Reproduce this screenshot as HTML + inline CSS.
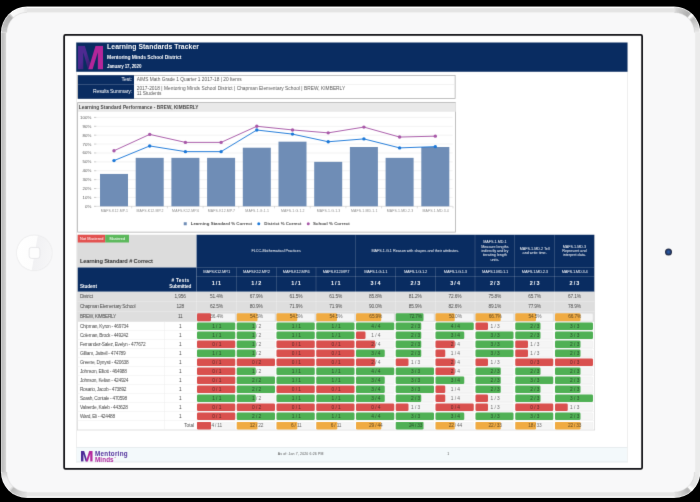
<!DOCTYPE html>
<html><head><meta charset="utf-8"><title>Learning Standards Tracker</title>
<style>
html,body{margin:0;padding:0;background:#000;}
body{width:700px;height:502px;position:relative;overflow:hidden;font-family:"Liberation Sans",sans-serif;}
#root div{position:absolute;box-sizing:border-box;}
#root{position:absolute;left:0;top:0;width:2800px;height:2008px;transform:scale(0.25);transform-origin:0 0;}
#wrap{position:absolute;left:0;top:0;width:700px;height:502px;overflow:hidden;filter:url(#soft);}
</style></head><body><svg width="0" height="0" style="position:absolute"><defs><filter id="soft" x="0" y="0" width="100%" height="100%" color-interpolation-filters="sRGB"><feConvolveMatrix order="3" kernelMatrix="0 1 0 1 8 1 0 1 0" divisor="12" edgeMode="duplicate" preserveAlpha="true"/></filter></defs></svg><div id="wrap"><div id="root">

<svg style="position:absolute;left:0;top:0;width:2800.00px;height:2008.00px" viewBox="0 0 700 502"><defs><linearGradient id="lg" x1="0" x2="1" y1="0" y2="0"><stop offset="0" stop-color="#dcdcdc"/><stop offset="0.18" stop-color="#bcbcbc"/><stop offset="0.8" stop-color="#d6d6d6"/><stop offset="0.86" stop-color="#ffffff"/><stop offset="1" stop-color="#fbfbfb"/></linearGradient></defs><mask id="fc" maskUnits="userSpaceOnUse" x="0" y="0" width="700" height="502"><rect x="0.9" y="6.6" width="699.4" height="491.4" rx="26.0" fill="#fff"/></mask><g mask="url(#fc)"><rect x="-5" y="0" width="710" height="502" fill="#f8f8f9"/><rect x="26.9" y="2.5999999999999996" width="647.4" height="9.8" fill="#e4e4e4"/><rect x="26.9" y="2.5999999999999996" width="647.4" height="5.5" fill="#ffffff"/><rect x="26.9" y="492.2" width="647.4" height="9.8" fill="#e6e6e6"/><rect x="26.9" y="496.5" width="647.4" height="5.5" fill="#ffffff"/><rect x="-3.1" y="32.6" width="4.5" height="439.4" fill="#e2e2e2"/><rect x="0.9" y="32.6" width="6.6" height="439.4" fill="url(#lg)"/><rect x="695.1" y="32.6" width="9.2" height="439.4" fill="#ebebeb"/><path d="M26.90 7.50 A25.10 25.10 0 0 0 24.79 7.59" fill="none" stroke="#e8e8e8" stroke-width="9.8"/><path d="M25.26 7.55 A25.10 25.10 0 0 0 23.16 7.78" fill="none" stroke="#ededed" stroke-width="9.8"/><path d="M23.62 7.71 A25.10 25.10 0 0 0 21.54 8.08" fill="none" stroke="#f3f3f3" stroke-width="9.8"/><path d="M22.00 7.98 A25.10 25.10 0 0 0 19.95 8.48" fill="none" stroke="#f5f5f5" stroke-width="9.8"/><path d="M20.40 8.36 A25.10 25.10 0 0 0 18.39 8.99" fill="none" stroke="#f5f5f5" stroke-width="9.8"/><path d="M18.83 8.83 A25.10 25.10 0 0 0 16.86 9.60" fill="none" stroke="#f6f6f6" stroke-width="9.8"/><path d="M17.29 9.41 A25.10 25.10 0 0 0 15.38 10.30" fill="none" stroke="#f7f7f7" stroke-width="9.8"/><path d="M15.80 10.09 A25.10 25.10 0 0 0 13.94 11.10" fill="none" stroke="#f8f8f8" stroke-width="9.8"/><path d="M14.35 10.86 A25.10 25.10 0 0 0 12.56 12.00" fill="none" stroke="#f8f8f8" stroke-width="9.8"/><path d="M12.96 11.73 A25.10 25.10 0 0 0 11.25 12.98" fill="none" stroke="#f9f9f9" stroke-width="9.8"/><path d="M11.62 12.69 A25.10 25.10 0 0 0 10.00 14.04" fill="none" stroke="#fafafa" stroke-width="9.8"/><path d="M10.35 13.73 A25.10 25.10 0 0 0 8.82 15.19" fill="none" stroke="#cbcbcb" stroke-width="9.8"/><path d="M9.15 14.85 A25.10 25.10 0 0 0 7.72 16.41" fill="none" stroke="#b1b1b1" stroke-width="9.8"/><path d="M8.03 16.05 A25.10 25.10 0 0 0 6.70 17.70" fill="none" stroke="#b2b2b2" stroke-width="9.8"/><path d="M6.99 17.32 A25.10 25.10 0 0 0 5.77 19.05" fill="none" stroke="#b4b4b4" stroke-width="9.8"/><path d="M6.03 18.66 A25.10 25.10 0 0 0 4.93 20.46" fill="none" stroke="#b5b5b5" stroke-width="9.8"/><path d="M5.16 20.05 A25.10 25.10 0 0 0 4.18 21.92" fill="none" stroke="#b6b6b6" stroke-width="9.8"/><path d="M4.39 21.50 A25.10 25.10 0 0 0 3.53 23.43" fill="none" stroke="#b8b8b8" stroke-width="9.8"/><path d="M3.71 22.99 A25.10 25.10 0 0 0 2.98 24.98" fill="none" stroke="#b9b9b9" stroke-width="9.8"/><path d="M3.13 24.53 A25.10 25.10 0 0 0 2.54 26.56" fill="none" stroke="#bbbbbb" stroke-width="9.8"/><path d="M2.66 26.10 A25.10 25.10 0 0 0 2.19 28.17" fill="none" stroke="#bfbfbf" stroke-width="9.8"/><path d="M2.28 27.70 A25.10 25.10 0 0 0 1.96 29.79" fill="none" stroke="#c2c2c2" stroke-width="9.8"/><path d="M2.01 29.32 A25.10 25.10 0 0 0 1.83 31.43" fill="none" stroke="#c5c5c5" stroke-width="9.8"/><path d="M1.85 30.96 A25.10 25.10 0 0 0 1.80 32.60" fill="none" stroke="#c9c9c9" stroke-width="9.8"/><path d="M26.90 5.50 A27.10 27.10 0 0 0 -0.20 32.60" fill="none" stroke="rgba(255,255,255,0.5)" stroke-width="4.0"/><path d="M26.90 12.40 A20.20 20.20 0 0 0 6.70 32.60" fill="none" stroke="rgba(190,190,190,0.5)" stroke-width="0.7"/><path d="M674.30 7.50 A25.10 25.10 0 0 1 676.41 7.59" fill="none" stroke="#dbdbdb" stroke-width="9.8"/><path d="M675.94 7.55 A25.10 25.10 0 0 1 678.04 7.78" fill="none" stroke="#d2d2d2" stroke-width="9.8"/><path d="M677.58 7.71 A25.10 25.10 0 0 1 679.66 8.08" fill="none" stroke="#cbcbcb" stroke-width="9.8"/><path d="M679.20 7.98 A25.10 25.10 0 0 1 681.25 8.48" fill="none" stroke="#c7c7c7" stroke-width="9.8"/><path d="M680.80 8.36 A25.10 25.10 0 0 1 682.81 8.99" fill="none" stroke="#c3c3c3" stroke-width="9.8"/><path d="M682.37 8.83 A25.10 25.10 0 0 1 684.34 9.60" fill="none" stroke="#bfbfbf" stroke-width="9.8"/><path d="M683.91 9.41 A25.10 25.10 0 0 1 685.82 10.30" fill="none" stroke="#bbbbbb" stroke-width="9.8"/><path d="M685.40 10.09 A25.10 25.10 0 0 1 687.26 11.10" fill="none" stroke="#b7b7b7" stroke-width="9.8"/><path d="M686.85 10.86 A25.10 25.10 0 0 1 688.64 12.00" fill="none" stroke="#b4b4b4" stroke-width="9.8"/><path d="M688.24 11.73 A25.10 25.10 0 0 1 689.95 12.98" fill="none" stroke="#b0b0b0" stroke-width="9.8"/><path d="M689.58 12.69 A25.10 25.10 0 0 1 691.20 14.04" fill="none" stroke="#b5b5b5" stroke-width="9.8"/><path d="M690.85 13.73 A25.10 25.10 0 0 1 692.38 15.19" fill="none" stroke="#fafafa" stroke-width="9.8"/><path d="M692.05 14.85 A25.10 25.10 0 0 1 693.48 16.41" fill="none" stroke="#fafafa" stroke-width="9.8"/><path d="M693.17 16.05 A25.10 25.10 0 0 1 694.50 17.70" fill="none" stroke="#d0d0d0" stroke-width="9.8"/><path d="M694.21 17.32 A25.10 25.10 0 0 1 695.43 19.05" fill="none" stroke="#bababa" stroke-width="9.8"/><path d="M695.17 18.66 A25.10 25.10 0 0 1 696.27 20.46" fill="none" stroke="#bfbfbf" stroke-width="9.8"/><path d="M696.04 20.05 A25.10 25.10 0 0 1 697.02 21.92" fill="none" stroke="#c3c3c3" stroke-width="9.8"/><path d="M696.81 21.50 A25.10 25.10 0 0 1 697.67 23.43" fill="none" stroke="#c8c8c8" stroke-width="9.8"/><path d="M697.49 22.99 A25.10 25.10 0 0 1 698.22 24.98" fill="none" stroke="#cdcdcd" stroke-width="9.8"/><path d="M698.07 24.53 A25.10 25.10 0 0 1 698.66 26.56" fill="none" stroke="#d2d2d2" stroke-width="9.8"/><path d="M698.54 26.10 A25.10 25.10 0 0 1 699.01 28.17" fill="none" stroke="#d7d7d7" stroke-width="9.8"/><path d="M698.92 27.70 A25.10 25.10 0 0 1 699.24 29.79" fill="none" stroke="#dcdcdc" stroke-width="9.8"/><path d="M699.19 29.32 A25.10 25.10 0 0 1 699.37 31.43" fill="none" stroke="#e1e1e1" stroke-width="9.8"/><path d="M699.35 30.96 A25.10 25.10 0 0 1 699.40 32.60" fill="none" stroke="#e6e6e6" stroke-width="9.8"/><path d="M674.30 5.50 A27.10 27.10 0 0 1 701.40 32.60" fill="none" stroke="rgba(255,255,255,0.5)" stroke-width="4.0"/><path d="M674.30 12.40 A20.20 20.20 0 0 1 694.50 32.60" fill="none" stroke="rgba(190,190,190,0.5)" stroke-width="0.7"/><path d="M26.90 497.10 A25.10 25.10 0 0 1 24.79 497.01" fill="none" stroke="#e0e0e0" stroke-width="9.8"/><path d="M25.26 497.05 A25.10 25.10 0 0 1 23.16 496.82" fill="none" stroke="#dddddd" stroke-width="9.8"/><path d="M23.62 496.89 A25.10 25.10 0 0 1 21.54 496.52" fill="none" stroke="#d9d9d9" stroke-width="9.8"/><path d="M22.00 496.62 A25.10 25.10 0 0 1 19.95 496.12" fill="none" stroke="#d6d6d6" stroke-width="9.8"/><path d="M20.40 496.24 A25.10 25.10 0 0 1 18.39 495.61" fill="none" stroke="#d3d3d3" stroke-width="9.8"/><path d="M18.83 495.77 A25.10 25.10 0 0 1 16.86 495.00" fill="none" stroke="#cecece" stroke-width="9.8"/><path d="M17.29 495.19 A25.10 25.10 0 0 1 15.38 494.30" fill="none" stroke="#cacaca" stroke-width="9.8"/><path d="M15.80 494.51 A25.10 25.10 0 0 1 13.94 493.50" fill="none" stroke="#c6c6c6" stroke-width="9.8"/><path d="M14.35 493.74 A25.10 25.10 0 0 1 12.56 492.60" fill="none" stroke="#c2c2c2" stroke-width="9.8"/><path d="M12.96 492.87 A25.10 25.10 0 0 1 11.25 491.62" fill="none" stroke="#bebebe" stroke-width="9.8"/><path d="M11.62 491.91 A25.10 25.10 0 0 1 10.00 490.56" fill="none" stroke="#bababa" stroke-width="9.8"/><path d="M10.35 490.87 A25.10 25.10 0 0 1 8.82 489.41" fill="none" stroke="#dbdbdb" stroke-width="9.8"/><path d="M9.15 489.75 A25.10 25.10 0 0 1 7.72 488.19" fill="none" stroke="#f0f0f0" stroke-width="9.8"/><path d="M8.03 488.55 A25.10 25.10 0 0 1 6.70 486.90" fill="none" stroke="#f0f0f0" stroke-width="9.8"/><path d="M6.99 487.28 A25.10 25.10 0 0 1 5.77 485.55" fill="none" stroke="#f0f0f0" stroke-width="9.8"/><path d="M6.03 485.94 A25.10 25.10 0 0 1 4.93 484.14" fill="none" stroke="#f0f0f0" stroke-width="9.8"/><path d="M5.16 484.55 A25.10 25.10 0 0 1 4.18 482.68" fill="none" stroke="#f0f0f0" stroke-width="9.8"/><path d="M4.39 483.10 A25.10 25.10 0 0 1 3.53 481.17" fill="none" stroke="#f0f0f0" stroke-width="9.8"/><path d="M3.71 481.61 A25.10 25.10 0 0 1 2.98 479.62" fill="none" stroke="#f0f0f0" stroke-width="9.8"/><path d="M3.13 480.07 A25.10 25.10 0 0 1 2.54 478.04" fill="none" stroke="#ededed" stroke-width="9.8"/><path d="M2.66 478.50 A25.10 25.10 0 0 1 2.19 476.43" fill="none" stroke="#e6e6e6" stroke-width="9.8"/><path d="M2.28 476.90 A25.10 25.10 0 0 1 1.96 474.81" fill="none" stroke="#dfdfdf" stroke-width="9.8"/><path d="M2.01 475.28 A25.10 25.10 0 0 1 1.83 473.17" fill="none" stroke="#d8d8d8" stroke-width="9.8"/><path d="M1.85 473.64 A25.10 25.10 0 0 1 1.80 472.00" fill="none" stroke="#d1d1d1" stroke-width="9.8"/><path d="M26.90 499.10 A27.10 27.10 0 0 1 -0.20 472.00" fill="none" stroke="rgba(255,255,255,0.5)" stroke-width="4.0"/><path d="M26.90 492.20 A20.20 20.20 0 0 1 6.70 472.00" fill="none" stroke="rgba(190,190,190,0.5)" stroke-width="0.7"/><path d="M674.30 497.10 A25.10 25.10 0 0 0 676.41 497.01" fill="none" stroke="#e1e1e1" stroke-width="9.8"/><path d="M675.94 497.05 A25.10 25.10 0 0 0 678.04 496.82" fill="none" stroke="#dddddd" stroke-width="9.8"/><path d="M677.58 496.89 A25.10 25.10 0 0 0 679.66 496.52" fill="none" stroke="#d8d8d8" stroke-width="9.8"/><path d="M679.20 496.62 A25.10 25.10 0 0 0 681.25 496.12" fill="none" stroke="#d4d4d4" stroke-width="9.8"/><path d="M680.80 496.24 A25.10 25.10 0 0 0 682.81 495.61" fill="none" stroke="#cfcfcf" stroke-width="9.8"/><path d="M682.37 495.77 A25.10 25.10 0 0 0 684.34 495.00" fill="none" stroke="#c9c9c9" stroke-width="9.8"/><path d="M683.91 495.19 A25.10 25.10 0 0 0 685.82 494.30" fill="none" stroke="#c4c4c4" stroke-width="9.8"/><path d="M685.40 494.51 A25.10 25.10 0 0 0 687.26 493.50" fill="none" stroke="#bfbfbf" stroke-width="9.8"/><path d="M686.85 493.74 A25.10 25.10 0 0 0 688.64 492.60" fill="none" stroke="#bababa" stroke-width="9.8"/><path d="M688.24 492.87 A25.10 25.10 0 0 0 689.95 491.62" fill="none" stroke="#b5b5b5" stroke-width="9.8"/><path d="M689.58 491.91 A25.10 25.10 0 0 0 691.20 490.56" fill="none" stroke="#b9b9b9" stroke-width="9.8"/><path d="M690.85 490.87 A25.10 25.10 0 0 0 692.38 489.41" fill="none" stroke="#fafafa" stroke-width="9.8"/><path d="M692.05 489.75 A25.10 25.10 0 0 0 693.48 488.19" fill="none" stroke="#fafafa" stroke-width="9.8"/><path d="M693.17 488.55 A25.10 25.10 0 0 0 694.50 486.90" fill="none" stroke="#ebebeb" stroke-width="9.8"/><path d="M694.21 487.28 A25.10 25.10 0 0 0 695.43 485.55" fill="none" stroke="#e3e3e3" stroke-width="9.8"/><path d="M695.17 485.94 A25.10 25.10 0 0 0 696.27 484.14" fill="none" stroke="#e3e3e3" stroke-width="9.8"/><path d="M696.04 484.55 A25.10 25.10 0 0 0 697.02 482.68" fill="none" stroke="#e4e4e4" stroke-width="9.8"/><path d="M696.81 483.10 A25.10 25.10 0 0 0 697.67 481.17" fill="none" stroke="#e5e5e5" stroke-width="9.8"/><path d="M697.49 481.61 A25.10 25.10 0 0 0 698.22 479.62" fill="none" stroke="#e6e6e6" stroke-width="9.8"/><path d="M698.07 480.07 A25.10 25.10 0 0 0 698.66 478.04" fill="none" stroke="#e7e7e7" stroke-width="9.8"/><path d="M698.54 478.50 A25.10 25.10 0 0 0 699.01 476.43" fill="none" stroke="#e7e7e7" stroke-width="9.8"/><path d="M698.92 476.90 A25.10 25.10 0 0 0 699.24 474.81" fill="none" stroke="#e8e8e8" stroke-width="9.8"/><path d="M699.19 475.28 A25.10 25.10 0 0 0 699.37 473.17" fill="none" stroke="#e9e9e9" stroke-width="9.8"/><path d="M699.35 473.64 A25.10 25.10 0 0 0 699.40 472.00" fill="none" stroke="#eaeaea" stroke-width="9.8"/><path d="M674.30 499.10 A27.10 27.10 0 0 0 701.40 472.00" fill="none" stroke="rgba(255,255,255,0.5)" stroke-width="4.0"/><path d="M674.30 492.20 A20.20 20.20 0 0 0 694.50 472.00" fill="none" stroke="rgba(190,190,190,0.5)" stroke-width="0.7"/></g></svg>
<div style="left:68.40px;top:942.40px;width:138.80px;height:138.80px;border-radius:50%;background:linear-gradient(100deg,#ffffff 0%,#fdfdfd 50%,#f1f1f3 52%,#f7f7f8 100%);box-shadow:0 0 6.00px rgba(0,0,0,.18);"></div>
<div style="left:114.80px;top:988.40px;width:46.40px;height:46.40px;border-radius:11.20px;border:3.60px solid #e0e0e3;background:#fdfdfd;"></div>
<div style="left:2659.60px;top:993.60px;width:28.00px;height:28.00px;border-radius:50%;background:radial-gradient(circle,#2b62b0 0%,#244a8a 30%,#232b45 62%,#3a3e4c 100%);"></div>
<div style="left:252.80px;top:136.40px;width:2318.80px;height:1742.80px;background:#fff;border:7.60px solid #0e0e12;border-radius:8.80px;box-shadow:0 0 0 3.60px rgba(255,255,255,0.95);"></div>
<div style="left:305.20px;top:169.60px;width:2205.20px;height:1680.00px;border-left:2.40px solid #dcdcdc;border-right:2.40px solid #dcdcdc;"></div>
<div style="left:305.20px;top:169.60px;width:2205.20px;height:117.20px;background:#092c61;"></div>
<svg style="position:absolute;left:311.60px;top:183.00px;width:100.40px;height:94.60px" viewBox="0 0 100 100" preserveAspectRatio="none">
<defs><linearGradient id="mgs" x1="0" y1="0" x2="1" y2="1"><stop offset="0.45" stop-color="#4e2a91"/><stop offset="0.8" stop-color="#3a1f74"/></linearGradient></defs>
<path d="M0 0 L27 0 L56 100 L40 100 L21 27 L21 100 L0 100 Z" fill="url(#mgs)"/>
<path d="M70 0 L100 0 L100 100 L79 100 L79 27 L58 100 L41 100 Z" fill="#b3269a"/>
</svg>
<div style="font-size:27.20px;line-height:27.20px;color:#fff;font-weight:bold;white-space:nowrap;letter-spacing:0.31px;left:428.40px;top:173.40px;">Learning Standards Tracker</div>
<div style="font-size:20.00px;line-height:20.00px;color:#fff;font-weight:bold;white-space:nowrap;letter-spacing:-0.32px;left:428.40px;top:218.28px;">Mentoring Minds School District</div>
<div style="font-size:18.00px;line-height:18.00px;color:#fff;font-weight:bold;white-space:nowrap;letter-spacing:-0.46px;left:428.40px;top:255.16px;">January 17, 2020</div>
<div style="left:308.80px;top:300.00px;width:1513.20px;height:95.20px;border:3.20px solid #adadad;background:#fff;"></div>
<div style="left:311.60px;top:300.80px;width:224.40px;height:94.40px;background:#092c61;"></div>
<div style="left:311.60px;top:337.00px;width:224.40px;height:2.00px;background:rgba(255,255,255,0.35);"></div>
<div style="left:536.80px;top:336.40px;width:1284.00px;height:2.00px;background:#e6e6e6;"></div>
<div style="font-size:20.40px;line-height:20.40px;color:#fff;font-weight:normal;white-space:nowrap;letter-spacing:-0.27px;right:2272.28px;top:304.76px;">Test:</div>
<div style="font-size:20.40px;line-height:20.40px;color:#fff;font-weight:normal;white-space:nowrap;letter-spacing:-0.71px;right:2272.72px;top:352.76px;">Results Summary:</div>
<div style="font-size:19.20px;line-height:19.20px;color:#555;font-weight:normal;white-space:nowrap;letter-spacing:-0.03px;left:546.80px;top:306.16px;">AIMS Math Grade 1 Quarter 1 2017-18 | 20 Items</div>
<div style="font-size:19.20px;line-height:19.20px;color:#555;font-weight:normal;white-space:nowrap;letter-spacing:0.15px;left:546.80px;top:342.16px;">2017-2018 | Mentoring Minds School District | Chapman Elementary School | BREW, KIMBERLY</div>
<div style="font-size:19.20px;line-height:19.20px;color:#555;font-weight:normal;white-space:nowrap;letter-spacing:-0.19px;left:546.80px;top:363.36px;">11 Students</div>
<div style="left:308.80px;top:408.80px;width:1514.40px;height:520.80px;border:3.20px solid #adadad;background:#fff;"></div>
<div style="left:311.60px;top:412.00px;width:1511.60px;height:35.20px;background:#e9e9e9;"></div>
<div style="font-size:18.80px;line-height:18.80px;color:#444;font-weight:bold;white-space:nowrap;letter-spacing:0.29px;left:315.20px;top:419.68px;">Learning Standard Performance - BREW, KIMBERLY</div>
<svg style="position:absolute;left:0;top:0;width:2800.00px;height:2008.00px" viewBox="0 0 700 502"><line x1="96.3" x2="452.6" y1="206.30" y2="206.30" stroke="#bdbdbd" stroke-width="0.5"/><line x1="94" x2="96.3" y1="206.30" y2="206.30" stroke="#999" stroke-width="0.5"/><line x1="96.3" x2="452.6" y1="197.41" y2="197.41" stroke="#e6e6e6" stroke-width="0.5"/><line x1="94" x2="96.3" y1="197.41" y2="197.41" stroke="#999" stroke-width="0.5"/><line x1="96.3" x2="452.6" y1="188.52" y2="188.52" stroke="#e6e6e6" stroke-width="0.5"/><line x1="94" x2="96.3" y1="188.52" y2="188.52" stroke="#999" stroke-width="0.5"/><line x1="96.3" x2="452.6" y1="179.63" y2="179.63" stroke="#e6e6e6" stroke-width="0.5"/><line x1="94" x2="96.3" y1="179.63" y2="179.63" stroke="#999" stroke-width="0.5"/><line x1="96.3" x2="452.6" y1="170.74" y2="170.74" stroke="#e6e6e6" stroke-width="0.5"/><line x1="94" x2="96.3" y1="170.74" y2="170.74" stroke="#999" stroke-width="0.5"/><line x1="96.3" x2="452.6" y1="161.85" y2="161.85" stroke="#e6e6e6" stroke-width="0.5"/><line x1="94" x2="96.3" y1="161.85" y2="161.85" stroke="#999" stroke-width="0.5"/><line x1="96.3" x2="452.6" y1="152.96" y2="152.96" stroke="#e6e6e6" stroke-width="0.5"/><line x1="94" x2="96.3" y1="152.96" y2="152.96" stroke="#999" stroke-width="0.5"/><line x1="96.3" x2="452.6" y1="144.07" y2="144.07" stroke="#e6e6e6" stroke-width="0.5"/><line x1="94" x2="96.3" y1="144.07" y2="144.07" stroke="#999" stroke-width="0.5"/><line x1="96.3" x2="452.6" y1="135.18" y2="135.18" stroke="#e6e6e6" stroke-width="0.5"/><line x1="94" x2="96.3" y1="135.18" y2="135.18" stroke="#999" stroke-width="0.5"/><line x1="96.3" x2="452.6" y1="126.29" y2="126.29" stroke="#e6e6e6" stroke-width="0.5"/><line x1="94" x2="96.3" y1="126.29" y2="126.29" stroke="#999" stroke-width="0.5"/><line x1="96.3" x2="452.6" y1="117.40" y2="117.40" stroke="#e6e6e6" stroke-width="0.5"/><line x1="94" x2="96.3" y1="117.40" y2="117.40" stroke="#999" stroke-width="0.5"/><rect x="100.00" y="173.94" width="28.0" height="32.36" fill="#6f8db6"/><line x1="131.70" x2="131.70" y1="206.3" y2="208.3" stroke="#bbb" stroke-width="0.5"/><rect x="135.70" y="157.85" width="28.0" height="48.45" fill="#6f8db6"/><line x1="167.40" x2="167.40" y1="206.3" y2="208.3" stroke="#bbb" stroke-width="0.5"/><rect x="171.40" y="157.85" width="28.0" height="48.45" fill="#6f8db6"/><line x1="203.10" x2="203.10" y1="206.3" y2="208.3" stroke="#bbb" stroke-width="0.5"/><rect x="207.10" y="157.85" width="28.0" height="48.45" fill="#6f8db6"/><line x1="238.80" x2="238.80" y1="206.3" y2="208.3" stroke="#bbb" stroke-width="0.5"/><rect x="242.80" y="147.71" width="28.0" height="58.59" fill="#6f8db6"/><line x1="274.50" x2="274.50" y1="206.3" y2="208.3" stroke="#bbb" stroke-width="0.5"/><rect x="278.50" y="141.67" width="28.0" height="64.63" fill="#6f8db6"/><line x1="310.20" x2="310.20" y1="206.3" y2="208.3" stroke="#bbb" stroke-width="0.5"/><rect x="314.20" y="161.85" width="28.0" height="44.45" fill="#6f8db6"/><line x1="345.90" x2="345.90" y1="206.3" y2="208.3" stroke="#bbb" stroke-width="0.5"/><rect x="349.90" y="147.00" width="28.0" height="59.30" fill="#6f8db6"/><line x1="381.60" x2="381.60" y1="206.3" y2="208.3" stroke="#bbb" stroke-width="0.5"/><rect x="385.60" y="157.85" width="28.0" height="48.45" fill="#6f8db6"/><line x1="417.30" x2="417.30" y1="206.3" y2="208.3" stroke="#bbb" stroke-width="0.5"/><rect x="421.30" y="147.00" width="28.0" height="59.30" fill="#6f8db6"/><line x1="453.00" x2="453.00" y1="206.3" y2="208.3" stroke="#bbb" stroke-width="0.5"/><polyline points="114.00,160.61 149.70,145.94 185.40,151.63 221.10,151.63 256.80,130.02 292.50,134.11 328.20,141.76 363.90,138.91 399.60,147.89 435.30,146.65" fill="none" stroke="#1c78d8" stroke-width="0.95"/><circle cx="114.00" cy="160.61" r="1.7" fill="#1c78d8"/><circle cx="149.70" cy="145.94" r="1.7" fill="#1c78d8"/><circle cx="185.40" cy="151.63" r="1.7" fill="#1c78d8"/><circle cx="221.10" cy="151.63" r="1.7" fill="#1c78d8"/><circle cx="256.80" cy="130.02" r="1.7" fill="#1c78d8"/><circle cx="292.50" cy="134.11" r="1.7" fill="#1c78d8"/><circle cx="328.20" cy="141.76" r="1.7" fill="#1c78d8"/><circle cx="363.90" cy="138.91" r="1.7" fill="#1c78d8"/><circle cx="399.60" cy="147.89" r="1.7" fill="#1c78d8"/><circle cx="435.30" cy="146.65" r="1.7" fill="#1c78d8"/><polyline points="114.00,150.74 149.70,134.38 185.40,142.38 221.10,142.38 256.80,126.29 292.50,129.93 328.20,132.87 363.90,127.09 399.60,137.05 435.30,136.16" fill="none" stroke="#a858a8" stroke-width="0.95"/><circle cx="114.00" cy="150.74" r="1.7" fill="#a858a8"/><circle cx="149.70" cy="134.38" r="1.7" fill="#a858a8"/><circle cx="185.40" cy="142.38" r="1.7" fill="#a858a8"/><circle cx="221.10" cy="142.38" r="1.7" fill="#a858a8"/><circle cx="256.80" cy="126.29" r="1.7" fill="#a858a8"/><circle cx="292.50" cy="129.93" r="1.7" fill="#a858a8"/><circle cx="328.20" cy="132.87" r="1.7" fill="#a858a8"/><circle cx="363.90" cy="127.09" r="1.7" fill="#a858a8"/><circle cx="399.60" cy="137.05" r="1.7" fill="#a858a8"/><circle cx="435.30" cy="136.16" r="1.7" fill="#a858a8"/></svg>
<div style="font-size:17.60px;line-height:17.60px;color:#585858;font-weight:normal;white-space:nowrap;letter-spacing:0.56px;right:2433.44px;top:816.52px;">0%</div>
<div style="font-size:17.60px;line-height:17.60px;color:#585858;font-weight:normal;white-space:nowrap;letter-spacing:0.39px;right:2433.60px;top:780.96px;">10%</div>
<div style="font-size:17.60px;line-height:17.60px;color:#585858;font-weight:normal;white-space:nowrap;letter-spacing:0.39px;right:2433.60px;top:745.40px;">20%</div>
<div style="font-size:17.60px;line-height:17.60px;color:#585858;font-weight:normal;white-space:nowrap;letter-spacing:0.39px;right:2433.60px;top:709.84px;">30%</div>
<div style="font-size:17.60px;line-height:17.60px;color:#585858;font-weight:normal;white-space:nowrap;letter-spacing:0.39px;right:2433.60px;top:674.28px;">40%</div>
<div style="font-size:17.60px;line-height:17.60px;color:#585858;font-weight:normal;white-space:nowrap;letter-spacing:0.39px;right:2433.60px;top:638.72px;">50%</div>
<div style="font-size:17.60px;line-height:17.60px;color:#585858;font-weight:normal;white-space:nowrap;letter-spacing:0.39px;right:2433.60px;top:603.16px;">60%</div>
<div style="font-size:17.60px;line-height:17.60px;color:#585858;font-weight:normal;white-space:nowrap;letter-spacing:0.39px;right:2433.60px;top:567.60px;">70%</div>
<div style="font-size:17.60px;line-height:17.60px;color:#585858;font-weight:normal;white-space:nowrap;letter-spacing:0.39px;right:2433.60px;top:532.04px;">80%</div>
<div style="font-size:17.60px;line-height:17.60px;color:#585858;font-weight:normal;white-space:nowrap;letter-spacing:0.39px;right:2433.60px;top:496.48px;">90%</div>
<div style="font-size:17.60px;line-height:17.60px;color:#585858;font-weight:normal;white-space:nowrap;letter-spacing:0.46px;right:2433.52px;top:460.92px;">100%</div>
<div style="font-size:14.00px;line-height:14.00px;color:#8e8e8e;font-weight:normal;white-space:nowrap;letter-spacing:0.51px;left:57.44px;width:800.00px;text-align:center;top:835.76px;">MAFS.K12.MP.1</div>
<div style="font-size:14.00px;line-height:14.00px;color:#8e8e8e;font-weight:normal;white-space:nowrap;letter-spacing:0.51px;left:200.24px;width:800.00px;text-align:center;top:835.76px;">MAFS.K12.MP.2</div>
<div style="font-size:14.00px;line-height:14.00px;color:#8e8e8e;font-weight:normal;white-space:nowrap;letter-spacing:0.51px;left:343.04px;width:800.00px;text-align:center;top:835.76px;">MAFS.K12.MP.6</div>
<div style="font-size:14.00px;line-height:14.00px;color:#8e8e8e;font-weight:normal;white-space:nowrap;letter-spacing:0.51px;left:485.84px;width:800.00px;text-align:center;top:835.76px;">MAFS.K12.MP.7</div>
<div style="font-size:14.00px;line-height:14.00px;color:#8e8e8e;font-weight:normal;white-space:nowrap;letter-spacing:0.48px;left:628.64px;width:800.00px;text-align:center;top:835.76px;">MAFS.1.G.1.1</div>
<div style="font-size:14.00px;line-height:14.00px;color:#8e8e8e;font-weight:normal;white-space:nowrap;letter-spacing:0.48px;left:771.44px;width:800.00px;text-align:center;top:835.76px;">MAFS.1.G.1.2</div>
<div style="font-size:14.00px;line-height:14.00px;color:#8e8e8e;font-weight:normal;white-space:nowrap;letter-spacing:0.48px;left:914.24px;width:800.00px;text-align:center;top:835.76px;">MAFS.1.G.1.3</div>
<div style="font-size:14.00px;line-height:14.00px;color:#8e8e8e;font-weight:normal;white-space:nowrap;letter-spacing:0.50px;left:1057.04px;width:800.00px;text-align:center;top:835.76px;">MAFS.1.MD.1.1</div>
<div style="font-size:14.00px;line-height:14.00px;color:#8e8e8e;font-weight:normal;white-space:nowrap;letter-spacing:0.50px;left:1199.84px;width:800.00px;text-align:center;top:835.76px;">MAFS.1.MD.2.3</div>
<div style="font-size:14.00px;line-height:14.00px;color:#8e8e8e;font-weight:normal;white-space:nowrap;letter-spacing:0.50px;left:1342.64px;width:800.00px;text-align:center;top:835.76px;">MAFS.1.MD.3.4</div>
<div style="left:734.80px;top:888.80px;width:12.40px;height:12.40px;background:#6f8db6;"></div>
<div style="font-size:17.60px;line-height:17.60px;color:#4a4a4a;font-weight:bold;white-space:nowrap;letter-spacing:0.08px;left:762.80px;top:886.72px;">Learning Standard % Correct</div>
<div style="left:1029.20px;top:889.20px;width:12.00px;height:12.00px;background:#1c78d8;border-radius:50%;"></div>
<div style="font-size:17.60px;line-height:17.60px;color:#4a4a4a;font-weight:bold;white-space:nowrap;letter-spacing:0.03px;left:1056.80px;top:886.72px;">District % Correct</div>
<div style="left:1226.80px;top:889.20px;width:12.00px;height:12.00px;background:#a858a8;border-radius:50%;"></div>
<div style="font-size:17.60px;line-height:17.60px;color:#4a4a4a;font-weight:bold;white-space:nowrap;letter-spacing:0.01px;left:1252.40px;top:886.72px;">School % Correct</div>
<div style="left:309.20px;top:939.00px;width:2069.60px;height:781.80px;background:#fff;border:2.40px solid #c4c4c4;border-top:none;"></div>
<div style="left:310.80px;top:939.00px;width:475.60px;height:130.60px;background:#dcdcdc;"></div>
<div style="left:310.80px;top:939.00px;width:110.40px;height:31.20px;background:#e2514f;"></div>
<div style="left:421.20px;top:939.00px;width:94.80px;height:31.20px;background:#5cb85c;"></div>
<div style="font-size:15.60px;line-height:15.60px;color:#fff;font-weight:normal;white-space:nowrap;letter-spacing:-0.04px;left:320.40px;top:944.80px;">Not Mastered</div>
<div style="font-size:15.60px;line-height:15.60px;color:#fff;font-weight:normal;white-space:nowrap;letter-spacing:-0.32px;left:437.60px;top:944.80px;">Mastered</div>
<div style="font-size:22.80px;line-height:22.80px;color:#333;font-weight:bold;white-space:nowrap;letter-spacing:-0.60px;left:319.60px;top:1032.32px;">Learning Standard # Correct</div>
<div style="left:786.40px;top:939.00px;width:1590.80px;height:227.80px;background:#092c61;"></div>
<div style="left:310.80px;top:1069.60px;width:476.40px;height:97.20px;background:#092c61;"></div>
<div style="font-size:18.80px;line-height:18.80px;color:#fff;font-weight:bold;white-space:nowrap;letter-spacing:-0.26px;left:319.60px;top:1136.08px;">Student</div>
<div style="font-size:18.80px;line-height:18.80px;color:#fff;font-weight:bold;white-space:nowrap;letter-spacing:1.17px;left:321.80px;width:800.00px;text-align:center;top:1113.28px;"># Tests</div>
<div style="font-size:18.80px;line-height:18.80px;color:#fff;font-weight:bold;white-space:nowrap;letter-spacing:-0.44px;left:321.00px;width:800.00px;text-align:center;top:1136.08px;">Submitted</div>
<div style="left:786.40px;top:1068.60px;width:1590.80px;height:2.00px;background:rgba(255,255,255,0.30);"></div>
<div style="left:786.40px;top:1105.40px;width:1590.80px;height:2.00px;background:rgba(255,255,255,0.30);"></div>
<div style="left:785.40px;top:939.00px;width:2.00px;height:227.80px;background:rgba(255,255,255,0.30);"></div>
<div style="left:944.48px;top:1069.60px;width:2.00px;height:97.20px;background:rgba(255,255,255,0.30);"></div>
<div style="left:1103.56px;top:1069.60px;width:2.00px;height:97.20px;background:rgba(255,255,255,0.30);"></div>
<div style="left:1262.64px;top:1069.60px;width:2.00px;height:97.20px;background:rgba(255,255,255,0.30);"></div>
<div style="left:1421.72px;top:939.00px;width:2.00px;height:227.80px;background:rgba(255,255,255,0.30);"></div>
<div style="left:1580.80px;top:1069.60px;width:2.00px;height:97.20px;background:rgba(255,255,255,0.30);"></div>
<div style="left:1739.88px;top:1069.60px;width:2.00px;height:97.20px;background:rgba(255,255,255,0.30);"></div>
<div style="left:1898.96px;top:939.00px;width:2.00px;height:227.80px;background:rgba(255,255,255,0.30);"></div>
<div style="left:2058.04px;top:939.00px;width:2.00px;height:227.80px;background:rgba(255,255,255,0.30);"></div>
<div style="left:2217.12px;top:939.00px;width:2.00px;height:227.80px;background:rgba(255,255,255,0.30);"></div>
<div style="font-size:15.00px;line-height:15.00px;color:#fff;font-weight:normal;white-space:nowrap;letter-spacing:-0.08px;left:704.52px;width:800.00px;text-align:center;top:995.12px;">FLCC-Mathematical Practices</div>
<div style="font-size:15.00px;line-height:15.00px;color:#fff;font-weight:normal;white-space:nowrap;letter-spacing:-0.07px;left:1261.32px;width:800.00px;text-align:center;top:995.12px;">MAFS.1.G.1 Reason with shapes and their attributes.</div>
<div style="font-size:15.00px;line-height:15.00px;color:#fff;font-weight:normal;white-space:nowrap;letter-spacing:-0.09px;left:1579.44px;width:800.00px;text-align:center;top:960.48px;">MAFS.1.MD.1</div>
<div style="font-size:15.00px;line-height:15.00px;color:#fff;font-weight:normal;white-space:nowrap;letter-spacing:-0.08px;left:1579.48px;width:800.00px;text-align:center;top:977.80px;">Measure lengths</div>
<div style="font-size:15.00px;line-height:15.00px;color:#fff;font-weight:normal;white-space:nowrap;letter-spacing:-0.07px;left:1579.48px;width:800.00px;text-align:center;top:995.12px;">indirectly and by</div>
<div style="font-size:15.00px;line-height:15.00px;color:#fff;font-weight:normal;white-space:nowrap;letter-spacing:-0.07px;left:1579.48px;width:800.00px;text-align:center;top:1012.44px;">iterating length</div>
<div style="font-size:15.00px;line-height:15.00px;color:#fff;font-weight:normal;white-space:nowrap;letter-spacing:-0.07px;left:1579.48px;width:800.00px;text-align:center;top:1029.76px;">units.</div>
<div style="font-size:15.00px;line-height:15.00px;color:#fff;font-weight:normal;white-space:nowrap;letter-spacing:-0.08px;left:1738.52px;width:800.00px;text-align:center;top:986.44px;">MAFS.1.MD.2 Tell</div>
<div style="font-size:15.00px;line-height:15.00px;color:#fff;font-weight:normal;white-space:nowrap;letter-spacing:-0.07px;left:1738.56px;width:800.00px;text-align:center;top:1003.76px;">and write time.</div>
<div style="font-size:15.00px;line-height:15.00px;color:#fff;font-weight:normal;white-space:nowrap;letter-spacing:-0.09px;left:1897.60px;width:800.00px;text-align:center;top:977.80px;">MAFS.1.MD.3</div>
<div style="font-size:15.00px;line-height:15.00px;color:#fff;font-weight:normal;white-space:nowrap;letter-spacing:-0.08px;left:1897.60px;width:800.00px;text-align:center;top:995.12px;">Represent and</div>
<div style="font-size:15.00px;line-height:15.00px;color:#fff;font-weight:normal;white-space:nowrap;letter-spacing:-0.07px;left:1897.64px;width:800.00px;text-align:center;top:1012.44px;">interpret data.</div>
<div style="font-size:16.00px;line-height:16.00px;color:#fff;font-weight:normal;white-space:nowrap;letter-spacing:-0.78px;left:466.76px;width:800.00px;text-align:center;top:1077.28px;">MAFS.K12.MP.1</div>
<div style="font-size:22.00px;line-height:22.00px;color:#fff;font-weight:bold;white-space:nowrap;letter-spacing:-1.30px;left:465.28px;width:800.00px;text-align:center;top:1123.00px;">1 / 1</div>
<div style="font-size:16.00px;line-height:16.00px;color:#fff;font-weight:normal;white-space:nowrap;letter-spacing:-0.78px;left:625.84px;width:800.00px;text-align:center;top:1077.28px;">MAFS.K12.MP.2</div>
<div style="font-size:22.00px;line-height:22.00px;color:#fff;font-weight:bold;white-space:nowrap;letter-spacing:-0.80px;left:624.60px;width:800.00px;text-align:center;top:1123.00px;">1 / 2</div>
<div style="font-size:16.00px;line-height:16.00px;color:#fff;font-weight:normal;white-space:nowrap;letter-spacing:-0.78px;left:784.92px;width:800.00px;text-align:center;top:1077.28px;">MAFS.K12.MP.6</div>
<div style="font-size:22.00px;line-height:22.00px;color:#fff;font-weight:bold;white-space:nowrap;letter-spacing:-1.30px;left:783.44px;width:800.00px;text-align:center;top:1123.00px;">1 / 1</div>
<div style="font-size:16.00px;line-height:16.00px;color:#fff;font-weight:normal;white-space:nowrap;letter-spacing:-0.78px;left:944.00px;width:800.00px;text-align:center;top:1077.28px;">MAFS.K12.MP.7</div>
<div style="font-size:22.00px;line-height:22.00px;color:#fff;font-weight:bold;white-space:nowrap;letter-spacing:-1.30px;left:942.52px;width:800.00px;text-align:center;top:1123.00px;">1 / 1</div>
<div style="font-size:16.00px;line-height:16.00px;color:#fff;font-weight:normal;white-space:nowrap;letter-spacing:-0.74px;left:1103.08px;width:800.00px;text-align:center;top:1077.28px;">MAFS.1.G.1.1</div>
<div style="font-size:22.00px;line-height:22.00px;color:#fff;font-weight:bold;white-space:nowrap;letter-spacing:-0.80px;left:1101.84px;width:800.00px;text-align:center;top:1123.00px;">3 / 4</div>
<div style="font-size:16.00px;line-height:16.00px;color:#fff;font-weight:normal;white-space:nowrap;letter-spacing:-0.74px;left:1262.16px;width:800.00px;text-align:center;top:1077.28px;">MAFS.1.G.1.2</div>
<div style="font-size:22.00px;line-height:22.00px;color:#fff;font-weight:bold;white-space:nowrap;letter-spacing:-0.80px;left:1260.92px;width:800.00px;text-align:center;top:1123.00px;">2 / 3</div>
<div style="font-size:16.00px;line-height:16.00px;color:#fff;font-weight:normal;white-space:nowrap;letter-spacing:-0.74px;left:1421.24px;width:800.00px;text-align:center;top:1077.28px;">MAFS.1.G.1.3</div>
<div style="font-size:22.00px;line-height:22.00px;color:#fff;font-weight:bold;white-space:nowrap;letter-spacing:-0.80px;left:1420.00px;width:800.00px;text-align:center;top:1123.00px;">3 / 4</div>
<div style="font-size:16.00px;line-height:16.00px;color:#fff;font-weight:normal;white-space:nowrap;letter-spacing:-0.76px;left:1580.32px;width:800.00px;text-align:center;top:1077.28px;">MAFS.1.MD.1.1</div>
<div style="font-size:22.00px;line-height:22.00px;color:#fff;font-weight:bold;white-space:nowrap;letter-spacing:-0.80px;left:1579.08px;width:800.00px;text-align:center;top:1123.00px;">2 / 3</div>
<div style="font-size:16.00px;line-height:16.00px;color:#fff;font-weight:normal;white-space:nowrap;letter-spacing:-0.76px;left:1739.40px;width:800.00px;text-align:center;top:1077.28px;">MAFS.1.MD.2.3</div>
<div style="font-size:22.00px;line-height:22.00px;color:#fff;font-weight:bold;white-space:nowrap;letter-spacing:-0.80px;left:1738.16px;width:800.00px;text-align:center;top:1123.00px;">2 / 3</div>
<div style="font-size:16.00px;line-height:16.00px;color:#fff;font-weight:normal;white-space:nowrap;letter-spacing:-0.76px;left:1898.48px;width:800.00px;text-align:center;top:1077.28px;">MAFS.1.MD.3.4</div>
<div style="font-size:22.00px;line-height:22.00px;color:#fff;font-weight:bold;white-space:nowrap;letter-spacing:-0.80px;left:1897.24px;width:800.00px;text-align:center;top:1123.00px;">2 / 3</div>
<div style="left:310.80px;top:1166.80px;width:2066.40px;height:119.80px;background:#dedede;"></div>
<div style="left:310.80px;top:1205.80px;width:2066.40px;height:2.00px;background:rgba(255,255,255,0.45);"></div>
<div style="left:310.80px;top:1245.40px;width:2066.40px;height:2.00px;background:rgba(255,255,255,0.45);"></div>
<div style="font-size:19.20px;line-height:19.20px;color:#4a4a4a;font-weight:normal;white-space:nowrap;letter-spacing:-0.91px;left:319.60px;top:1175.76px;">District</div>
<div style="font-size:19.20px;line-height:19.20px;color:#4a4a4a;font-weight:normal;white-space:nowrap;letter-spacing:-0.60px;left:320.88px;width:800.00px;text-align:center;top:1175.76px;">1,956</div>
<div style="font-size:19.20px;line-height:19.20px;color:#4a4a4a;font-weight:normal;white-space:nowrap;letter-spacing:-1.13px;left:319.60px;top:1216.56px;">Chapman Elementary School</div>
<div style="font-size:19.20px;line-height:19.20px;color:#4a4a4a;font-weight:normal;white-space:nowrap;letter-spacing:-0.80px;left:320.80px;width:800.00px;text-align:center;top:1216.56px;">128</div>
<div style="font-size:19.20px;line-height:19.20px;color:#4a4a4a;font-weight:normal;white-space:nowrap;letter-spacing:-1.36px;left:319.60px;top:1256.16px;">BREW, KIMBERLY</div>
<div style="font-size:19.20px;line-height:19.20px;color:#4a4a4a;font-weight:normal;white-space:nowrap;letter-spacing:-1.00px;left:320.72px;width:800.00px;text-align:center;top:1256.16px;">11</div>
<div style="font-size:19.20px;line-height:19.20px;color:#4a4a4a;font-weight:normal;white-space:nowrap;letter-spacing:-0.61px;left:465.64px;width:800.00px;text-align:center;top:1176.56px;">51.4%</div>
<div style="font-size:19.20px;line-height:19.20px;color:#4a4a4a;font-weight:normal;white-space:nowrap;letter-spacing:-0.61px;left:465.64px;width:800.00px;text-align:center;top:1216.56px;">62.5%</div>
<div style="left:785.40px;top:1166.80px;width:2.00px;height:119.80px;background:rgba(255,255,255,0.45);"></div>
<div style="font-size:19.20px;line-height:19.20px;color:#4a4a4a;font-weight:normal;white-space:nowrap;letter-spacing:-0.61px;left:624.72px;width:800.00px;text-align:center;top:1176.56px;">67.9%</div>
<div style="font-size:19.20px;line-height:19.20px;color:#4a4a4a;font-weight:normal;white-space:nowrap;letter-spacing:-0.61px;left:624.72px;width:800.00px;text-align:center;top:1216.56px;">80.9%</div>
<div style="left:944.48px;top:1166.80px;width:2.00px;height:119.80px;background:rgba(255,255,255,0.45);"></div>
<div style="font-size:19.20px;line-height:19.20px;color:#4a4a4a;font-weight:normal;white-space:nowrap;letter-spacing:-0.61px;left:783.80px;width:800.00px;text-align:center;top:1176.56px;">61.5%</div>
<div style="font-size:19.20px;line-height:19.20px;color:#4a4a4a;font-weight:normal;white-space:nowrap;letter-spacing:-0.61px;left:783.80px;width:800.00px;text-align:center;top:1216.56px;">71.9%</div>
<div style="left:1103.56px;top:1166.80px;width:2.00px;height:119.80px;background:rgba(255,255,255,0.45);"></div>
<div style="font-size:19.20px;line-height:19.20px;color:#4a4a4a;font-weight:normal;white-space:nowrap;letter-spacing:-0.61px;left:942.88px;width:800.00px;text-align:center;top:1176.56px;">61.5%</div>
<div style="font-size:19.20px;line-height:19.20px;color:#4a4a4a;font-weight:normal;white-space:nowrap;letter-spacing:-0.61px;left:942.88px;width:800.00px;text-align:center;top:1216.56px;">71.9%</div>
<div style="left:1262.64px;top:1166.80px;width:2.00px;height:119.80px;background:rgba(255,255,255,0.45);"></div>
<div style="font-size:19.20px;line-height:19.20px;color:#4a4a4a;font-weight:normal;white-space:nowrap;letter-spacing:-0.61px;left:1101.96px;width:800.00px;text-align:center;top:1176.56px;">85.8%</div>
<div style="font-size:19.20px;line-height:19.20px;color:#4a4a4a;font-weight:normal;white-space:nowrap;letter-spacing:-0.61px;left:1101.96px;width:800.00px;text-align:center;top:1216.56px;">90.0%</div>
<div style="left:1421.72px;top:1166.80px;width:2.00px;height:119.80px;background:rgba(255,255,255,0.45);"></div>
<div style="font-size:19.20px;line-height:19.20px;color:#4a4a4a;font-weight:normal;white-space:nowrap;letter-spacing:-0.61px;left:1261.04px;width:800.00px;text-align:center;top:1176.56px;">81.2%</div>
<div style="font-size:19.20px;line-height:19.20px;color:#4a4a4a;font-weight:normal;white-space:nowrap;letter-spacing:-0.61px;left:1261.04px;width:800.00px;text-align:center;top:1216.56px;">85.9%</div>
<div style="left:1580.80px;top:1166.80px;width:2.00px;height:119.80px;background:rgba(255,255,255,0.45);"></div>
<div style="font-size:19.20px;line-height:19.20px;color:#4a4a4a;font-weight:normal;white-space:nowrap;letter-spacing:-0.61px;left:1420.12px;width:800.00px;text-align:center;top:1176.56px;">72.6%</div>
<div style="font-size:19.20px;line-height:19.20px;color:#4a4a4a;font-weight:normal;white-space:nowrap;letter-spacing:-0.61px;left:1420.12px;width:800.00px;text-align:center;top:1216.56px;">82.6%</div>
<div style="left:1739.88px;top:1166.80px;width:2.00px;height:119.80px;background:rgba(255,255,255,0.45);"></div>
<div style="font-size:19.20px;line-height:19.20px;color:#4a4a4a;font-weight:normal;white-space:nowrap;letter-spacing:-0.61px;left:1579.20px;width:800.00px;text-align:center;top:1176.56px;">75.8%</div>
<div style="font-size:19.20px;line-height:19.20px;color:#4a4a4a;font-weight:normal;white-space:nowrap;letter-spacing:-0.61px;left:1579.20px;width:800.00px;text-align:center;top:1216.56px;">89.1%</div>
<div style="left:1898.96px;top:1166.80px;width:2.00px;height:119.80px;background:rgba(255,255,255,0.45);"></div>
<div style="font-size:19.20px;line-height:19.20px;color:#4a4a4a;font-weight:normal;white-space:nowrap;letter-spacing:-0.61px;left:1738.28px;width:800.00px;text-align:center;top:1176.56px;">65.7%</div>
<div style="font-size:19.20px;line-height:19.20px;color:#4a4a4a;font-weight:normal;white-space:nowrap;letter-spacing:-0.61px;left:1738.28px;width:800.00px;text-align:center;top:1216.56px;">77.9%</div>
<div style="left:2058.04px;top:1166.80px;width:2.00px;height:119.80px;background:rgba(255,255,255,0.45);"></div>
<div style="font-size:19.20px;line-height:19.20px;color:#4a4a4a;font-weight:normal;white-space:nowrap;letter-spacing:-0.61px;left:1897.36px;width:800.00px;text-align:center;top:1176.56px;">67.1%</div>
<div style="font-size:19.20px;line-height:19.20px;color:#4a4a4a;font-weight:normal;white-space:nowrap;letter-spacing:-0.61px;left:1897.36px;width:800.00px;text-align:center;top:1216.56px;">78.9%</div>
<div style="left:2217.12px;top:1166.80px;width:2.00px;height:119.80px;background:rgba(255,255,255,0.45);"></div>
<div style="left:788.00px;top:1252.60px;width:152.68px;height:32.40px;background:#f5f5f5;border:1.60px solid #e3e3e3;border-radius:5.20px;"></div>
<div style="left:788.00px;top:1252.60px;width:55.58px;height:32.40px;background:#d9504e;border-radius:5.20px;"></div>
<div style="font-size:19.20px;line-height:19.20px;color:rgba(20,20,20,0.66);font-weight:normal;white-space:nowrap;letter-spacing:-0.61px;left:466.84px;width:800.00px;text-align:center;top:1256.56px;">36.4%</div>
<div style="left:947.08px;top:1252.60px;width:152.68px;height:32.40px;background:#f5f5f5;border:1.60px solid #e3e3e3;border-radius:5.20px;"></div>
<div style="left:947.08px;top:1252.60px;width:83.21px;height:32.40px;background:#f0ab42;border-radius:5.20px;"></div>
<div style="font-size:19.20px;line-height:19.20px;color:rgba(20,20,20,0.66);font-weight:normal;white-space:nowrap;letter-spacing:-0.61px;left:625.92px;width:800.00px;text-align:center;top:1256.56px;">54.5%</div>
<div style="left:1106.16px;top:1252.60px;width:152.68px;height:32.40px;background:#f5f5f5;border:1.60px solid #e3e3e3;border-radius:5.20px;"></div>
<div style="left:1106.16px;top:1252.60px;width:83.21px;height:32.40px;background:#f0ab42;border-radius:5.20px;"></div>
<div style="font-size:19.20px;line-height:19.20px;color:rgba(20,20,20,0.66);font-weight:normal;white-space:nowrap;letter-spacing:-0.61px;left:785.00px;width:800.00px;text-align:center;top:1256.56px;">54.5%</div>
<div style="left:1265.24px;top:1252.60px;width:152.68px;height:32.40px;background:#f5f5f5;border:1.60px solid #e3e3e3;border-radius:5.20px;"></div>
<div style="left:1265.24px;top:1252.60px;width:83.21px;height:32.40px;background:#f0ab42;border-radius:5.20px;"></div>
<div style="font-size:19.20px;line-height:19.20px;color:rgba(20,20,20,0.66);font-weight:normal;white-space:nowrap;letter-spacing:-0.61px;left:944.08px;width:800.00px;text-align:center;top:1256.56px;">54.5%</div>
<div style="left:1424.32px;top:1252.60px;width:152.68px;height:32.40px;background:#f5f5f5;border:1.60px solid #e3e3e3;border-radius:5.20px;"></div>
<div style="left:1424.32px;top:1252.60px;width:100.62px;height:32.40px;background:#f0ab42;border-radius:5.20px;"></div>
<div style="font-size:19.20px;line-height:19.20px;color:rgba(20,20,20,0.66);font-weight:normal;white-space:nowrap;letter-spacing:-0.61px;left:1103.16px;width:800.00px;text-align:center;top:1256.56px;">65.9%</div>
<div style="left:1583.40px;top:1252.60px;width:152.68px;height:32.40px;background:#f5f5f5;border:1.60px solid #e3e3e3;border-radius:5.20px;"></div>
<div style="left:1583.40px;top:1252.60px;width:111.00px;height:32.40px;background:#4fb054;border-radius:5.20px;"></div>
<div style="font-size:19.20px;line-height:19.20px;color:rgba(20,20,20,0.66);font-weight:normal;white-space:nowrap;letter-spacing:-0.61px;left:1262.24px;width:800.00px;text-align:center;top:1256.56px;">72.7%</div>
<div style="left:1742.48px;top:1252.60px;width:152.68px;height:32.40px;background:#f5f5f5;border:1.60px solid #e3e3e3;border-radius:5.20px;"></div>
<div style="left:1742.48px;top:1252.60px;width:76.34px;height:32.40px;background:#f0ab42;border-radius:5.20px;"></div>
<div style="font-size:19.20px;line-height:19.20px;color:rgba(20,20,20,0.66);font-weight:normal;white-space:nowrap;letter-spacing:-0.61px;left:1421.32px;width:800.00px;text-align:center;top:1256.56px;">50.0%</div>
<div style="left:1901.56px;top:1252.60px;width:152.68px;height:32.40px;background:#f5f5f5;border:1.60px solid #e3e3e3;border-radius:5.20px;"></div>
<div style="left:1901.56px;top:1252.60px;width:101.84px;height:32.40px;background:#f0ab42;border-radius:5.20px;"></div>
<div style="font-size:19.20px;line-height:19.20px;color:rgba(20,20,20,0.66);font-weight:normal;white-space:nowrap;letter-spacing:-0.61px;left:1580.40px;width:800.00px;text-align:center;top:1256.56px;">66.7%</div>
<div style="left:2060.64px;top:1252.60px;width:152.68px;height:32.40px;background:#f5f5f5;border:1.60px solid #e3e3e3;border-radius:5.20px;"></div>
<div style="left:2060.64px;top:1252.60px;width:83.21px;height:32.40px;background:#f0ab42;border-radius:5.20px;"></div>
<div style="font-size:19.20px;line-height:19.20px;color:rgba(20,20,20,0.66);font-weight:normal;white-space:nowrap;letter-spacing:-0.61px;left:1739.48px;width:800.00px;text-align:center;top:1256.56px;">54.5%</div>
<div style="left:2219.72px;top:1252.60px;width:152.68px;height:32.40px;background:#f5f5f5;border:1.60px solid #e3e3e3;border-radius:5.20px;"></div>
<div style="left:2219.72px;top:1252.60px;width:101.84px;height:32.40px;background:#f0ab42;border-radius:5.20px;"></div>
<div style="font-size:19.20px;line-height:19.20px;color:rgba(20,20,20,0.66);font-weight:normal;white-space:nowrap;letter-spacing:-0.61px;left:1898.56px;width:800.00px;text-align:center;top:1256.56px;">66.7%</div>
<div style="left:310.80px;top:1322.00px;width:2066.40px;height:2.00px;background:#ececec;"></div>
<div style="font-size:19.20px;line-height:19.20px;color:#4a4a4a;font-weight:normal;white-space:nowrap;letter-spacing:-1.08px;left:319.60px;top:1293.76px;">Chipman, Kyron - 469734</div>
<div style="font-size:19.20px;line-height:19.20px;color:#4a4a4a;font-weight:normal;white-space:nowrap;letter-spacing:-0.53px;left:320.92px;width:800.00px;text-align:center;top:1293.76px;">1</div>
<div style="left:788.00px;top:1289.60px;width:152.68px;height:30.80px;background:#f5f5f5;border:1.60px solid #e3e3e3;border-radius:5.20px;"></div>
<div style="left:788.00px;top:1289.60px;width:152.68px;height:30.80px;background:#4fb054;border-radius:5.20px;"></div>
<div style="font-size:19.20px;line-height:19.20px;color:rgba(20,20,20,0.66);font-weight:normal;white-space:nowrap;letter-spacing:-0.14px;left:467.08px;width:800.00px;text-align:center;top:1294.16px;">1 / 1</div>
<div style="left:947.08px;top:1289.60px;width:152.68px;height:30.80px;background:#f5f5f5;border:1.60px solid #e3e3e3;border-radius:5.20px;"></div>
<div style="left:947.08px;top:1289.60px;width:76.34px;height:30.80px;background:#4fb054;border-radius:5.20px;"></div>
<div style="font-size:19.20px;line-height:19.20px;color:rgba(20,20,20,0.66);font-weight:normal;white-space:nowrap;letter-spacing:-0.14px;left:626.16px;width:800.00px;text-align:center;top:1294.16px;">1 / 2</div>
<div style="left:1106.16px;top:1289.60px;width:152.68px;height:30.80px;background:#f5f5f5;border:1.60px solid #e3e3e3;border-radius:5.20px;"></div>
<div style="left:1106.16px;top:1289.60px;width:152.68px;height:30.80px;background:#4fb054;border-radius:5.20px;"></div>
<div style="font-size:19.20px;line-height:19.20px;color:rgba(20,20,20,0.66);font-weight:normal;white-space:nowrap;letter-spacing:-0.14px;left:785.24px;width:800.00px;text-align:center;top:1294.16px;">1 / 1</div>
<div style="left:1265.24px;top:1289.60px;width:152.68px;height:30.80px;background:#f5f5f5;border:1.60px solid #e3e3e3;border-radius:5.20px;"></div>
<div style="left:1265.24px;top:1289.60px;width:152.68px;height:30.80px;background:#4fb054;border-radius:5.20px;"></div>
<div style="font-size:19.20px;line-height:19.20px;color:rgba(20,20,20,0.66);font-weight:normal;white-space:nowrap;letter-spacing:-0.14px;left:944.32px;width:800.00px;text-align:center;top:1294.16px;">1 / 1</div>
<div style="left:1424.32px;top:1289.60px;width:152.68px;height:30.80px;background:#f5f5f5;border:1.60px solid #e3e3e3;border-radius:5.20px;"></div>
<div style="left:1424.32px;top:1289.60px;width:152.68px;height:30.80px;background:#4fb054;border-radius:5.20px;"></div>
<div style="font-size:19.20px;line-height:19.20px;color:rgba(20,20,20,0.66);font-weight:normal;white-space:nowrap;letter-spacing:-0.14px;left:1103.40px;width:800.00px;text-align:center;top:1294.16px;">4 / 4</div>
<div style="left:1583.40px;top:1289.60px;width:152.68px;height:30.80px;background:#f5f5f5;border:1.60px solid #e3e3e3;border-radius:5.20px;"></div>
<div style="left:1583.40px;top:1289.60px;width:101.79px;height:30.80px;background:#4fb054;border-radius:5.20px;"></div>
<div style="font-size:19.20px;line-height:19.20px;color:rgba(20,20,20,0.66);font-weight:normal;white-space:nowrap;letter-spacing:-0.14px;left:1262.48px;width:800.00px;text-align:center;top:1294.16px;">2 / 3</div>
<div style="left:1742.48px;top:1289.60px;width:152.68px;height:30.80px;background:#f5f5f5;border:1.60px solid #e3e3e3;border-radius:5.20px;"></div>
<div style="left:1742.48px;top:1289.60px;width:152.68px;height:30.80px;background:#4fb054;border-radius:5.20px;"></div>
<div style="font-size:19.20px;line-height:19.20px;color:rgba(20,20,20,0.66);font-weight:normal;white-space:nowrap;letter-spacing:-0.14px;left:1421.56px;width:800.00px;text-align:center;top:1294.16px;">4 / 4</div>
<div style="left:1901.56px;top:1289.60px;width:152.68px;height:30.80px;background:#f5f5f5;border:1.60px solid #e3e3e3;border-radius:5.20px;"></div>
<div style="left:1901.56px;top:1289.60px;width:50.89px;height:30.80px;background:#d9504e;border-radius:5.20px;"></div>
<div style="font-size:19.20px;line-height:19.20px;color:rgba(20,20,20,0.66);font-weight:normal;white-space:nowrap;letter-spacing:-0.14px;left:1580.64px;width:800.00px;text-align:center;top:1294.16px;">1 / 3</div>
<div style="left:2060.64px;top:1289.60px;width:152.68px;height:30.80px;background:#f5f5f5;border:1.60px solid #e3e3e3;border-radius:5.20px;"></div>
<div style="left:2060.64px;top:1289.60px;width:101.79px;height:30.80px;background:#4fb054;border-radius:5.20px;"></div>
<div style="font-size:19.20px;line-height:19.20px;color:rgba(20,20,20,0.66);font-weight:normal;white-space:nowrap;letter-spacing:-0.14px;left:1739.72px;width:800.00px;text-align:center;top:1294.16px;">2 / 3</div>
<div style="left:2219.72px;top:1289.60px;width:152.68px;height:30.80px;background:#f5f5f5;border:1.60px solid #e3e3e3;border-radius:5.20px;"></div>
<div style="left:2219.72px;top:1289.60px;width:152.68px;height:30.80px;background:#4fb054;border-radius:5.20px;"></div>
<div style="font-size:19.20px;line-height:19.20px;color:rgba(20,20,20,0.66);font-weight:normal;white-space:nowrap;letter-spacing:-0.14px;left:1898.80px;width:800.00px;text-align:center;top:1294.16px;">3 / 3</div>
<div style="left:310.80px;top:1358.00px;width:2066.40px;height:2.00px;background:#ececec;"></div>
<div style="font-size:19.20px;line-height:19.20px;color:#4a4a4a;font-weight:normal;white-space:nowrap;letter-spacing:-1.08px;left:319.60px;top:1329.76px;">Coleman, Brock - 449242</div>
<div style="font-size:19.20px;line-height:19.20px;color:#4a4a4a;font-weight:normal;white-space:nowrap;letter-spacing:-0.53px;left:320.92px;width:800.00px;text-align:center;top:1329.76px;">1</div>
<div style="left:788.00px;top:1325.60px;width:152.68px;height:30.80px;background:#f5f5f5;border:1.60px solid #e3e3e3;border-radius:5.20px;"></div>
<div style="left:788.00px;top:1325.60px;width:152.68px;height:30.80px;background:#4fb054;border-radius:5.20px;"></div>
<div style="font-size:19.20px;line-height:19.20px;color:rgba(20,20,20,0.66);font-weight:normal;white-space:nowrap;letter-spacing:-0.14px;left:467.08px;width:800.00px;text-align:center;top:1330.16px;">1 / 1</div>
<div style="left:947.08px;top:1325.60px;width:152.68px;height:30.80px;background:#f5f5f5;border:1.60px solid #e3e3e3;border-radius:5.20px;"></div>
<div style="left:947.08px;top:1325.60px;width:76.34px;height:30.80px;background:#4fb054;border-radius:5.20px;"></div>
<div style="font-size:19.20px;line-height:19.20px;color:rgba(20,20,20,0.66);font-weight:normal;white-space:nowrap;letter-spacing:-0.14px;left:626.16px;width:800.00px;text-align:center;top:1330.16px;">1 / 2</div>
<div style="left:1106.16px;top:1325.60px;width:152.68px;height:30.80px;background:#f5f5f5;border:1.60px solid #e3e3e3;border-radius:5.20px;"></div>
<div style="left:1106.16px;top:1325.60px;width:152.68px;height:30.80px;background:#4fb054;border-radius:5.20px;"></div>
<div style="font-size:19.20px;line-height:19.20px;color:rgba(20,20,20,0.66);font-weight:normal;white-space:nowrap;letter-spacing:-0.14px;left:785.24px;width:800.00px;text-align:center;top:1330.16px;">1 / 1</div>
<div style="left:1265.24px;top:1325.60px;width:152.68px;height:30.80px;background:#f5f5f5;border:1.60px solid #e3e3e3;border-radius:5.20px;"></div>
<div style="left:1265.24px;top:1325.60px;width:152.68px;height:30.80px;background:#4fb054;border-radius:5.20px;"></div>
<div style="font-size:19.20px;line-height:19.20px;color:rgba(20,20,20,0.66);font-weight:normal;white-space:nowrap;letter-spacing:-0.14px;left:944.32px;width:800.00px;text-align:center;top:1330.16px;">1 / 1</div>
<div style="left:1424.32px;top:1325.60px;width:152.68px;height:30.80px;background:#f5f5f5;border:1.60px solid #e3e3e3;border-radius:5.20px;"></div>
<div style="left:1424.32px;top:1325.60px;width:38.17px;height:30.80px;background:#d9504e;border-radius:5.20px;"></div>
<div style="font-size:19.20px;line-height:19.20px;color:rgba(20,20,20,0.66);font-weight:normal;white-space:nowrap;letter-spacing:-0.14px;left:1103.40px;width:800.00px;text-align:center;top:1330.16px;">1 / 4</div>
<div style="left:1583.40px;top:1325.60px;width:152.68px;height:30.80px;background:#f5f5f5;border:1.60px solid #e3e3e3;border-radius:5.20px;"></div>
<div style="left:1583.40px;top:1325.60px;width:101.79px;height:30.80px;background:#4fb054;border-radius:5.20px;"></div>
<div style="font-size:19.20px;line-height:19.20px;color:rgba(20,20,20,0.66);font-weight:normal;white-space:nowrap;letter-spacing:-0.14px;left:1262.48px;width:800.00px;text-align:center;top:1330.16px;">2 / 3</div>
<div style="left:1742.48px;top:1325.60px;width:152.68px;height:30.80px;background:#f5f5f5;border:1.60px solid #e3e3e3;border-radius:5.20px;"></div>
<div style="left:1742.48px;top:1325.60px;width:114.51px;height:30.80px;background:#4fb054;border-radius:5.20px;"></div>
<div style="font-size:19.20px;line-height:19.20px;color:rgba(20,20,20,0.66);font-weight:normal;white-space:nowrap;letter-spacing:-0.14px;left:1421.56px;width:800.00px;text-align:center;top:1330.16px;">3 / 4</div>
<div style="left:1901.56px;top:1325.60px;width:152.68px;height:30.80px;background:#f5f5f5;border:1.60px solid #e3e3e3;border-radius:5.20px;"></div>
<div style="left:1901.56px;top:1325.60px;width:152.68px;height:30.80px;background:#4fb054;border-radius:5.20px;"></div>
<div style="font-size:19.20px;line-height:19.20px;color:rgba(20,20,20,0.66);font-weight:normal;white-space:nowrap;letter-spacing:-0.14px;left:1580.64px;width:800.00px;text-align:center;top:1330.16px;">3 / 3</div>
<div style="left:2060.64px;top:1325.60px;width:152.68px;height:30.80px;background:#f5f5f5;border:1.60px solid #e3e3e3;border-radius:5.20px;"></div>
<div style="left:2060.64px;top:1325.60px;width:101.79px;height:30.80px;background:#4fb054;border-radius:5.20px;"></div>
<div style="font-size:19.20px;line-height:19.20px;color:rgba(20,20,20,0.66);font-weight:normal;white-space:nowrap;letter-spacing:-0.14px;left:1739.72px;width:800.00px;text-align:center;top:1330.16px;">2 / 3</div>
<div style="left:2219.72px;top:1325.60px;width:152.68px;height:30.80px;background:#f5f5f5;border:1.60px solid #e3e3e3;border-radius:5.20px;"></div>
<div style="left:2219.72px;top:1325.60px;width:152.68px;height:30.80px;background:#4fb054;border-radius:5.20px;"></div>
<div style="font-size:19.20px;line-height:19.20px;color:rgba(20,20,20,0.66);font-weight:normal;white-space:nowrap;letter-spacing:-0.14px;left:1898.80px;width:800.00px;text-align:center;top:1330.16px;">3 / 3</div>
<div style="left:310.80px;top:1394.00px;width:2066.40px;height:2.00px;background:#ececec;"></div>
<div style="font-size:19.20px;line-height:19.20px;color:#4a4a4a;font-weight:normal;white-space:nowrap;letter-spacing:-1.04px;left:319.60px;top:1365.76px;">Fernandez-Salez, Evelyn - 477672</div>
<div style="font-size:19.20px;line-height:19.20px;color:#4a4a4a;font-weight:normal;white-space:nowrap;letter-spacing:-0.53px;left:320.92px;width:800.00px;text-align:center;top:1365.76px;">1</div>
<div style="left:788.00px;top:1361.60px;width:152.68px;height:30.80px;background:#f5f5f5;border:1.60px solid #e3e3e3;border-radius:5.20px;"></div>
<div style="left:788.00px;top:1361.60px;width:152.68px;height:30.80px;background:#d9504e;border-radius:5.20px;"></div>
<div style="font-size:19.20px;line-height:19.20px;color:rgba(20,20,20,0.66);font-weight:normal;white-space:nowrap;letter-spacing:-0.14px;left:467.08px;width:800.00px;text-align:center;top:1366.16px;">0 / 1</div>
<div style="left:947.08px;top:1361.60px;width:152.68px;height:30.80px;background:#f5f5f5;border:1.60px solid #e3e3e3;border-radius:5.20px;"></div>
<div style="left:947.08px;top:1361.60px;width:76.34px;height:30.80px;background:#4fb054;border-radius:5.20px;"></div>
<div style="font-size:19.20px;line-height:19.20px;color:rgba(20,20,20,0.66);font-weight:normal;white-space:nowrap;letter-spacing:-0.14px;left:626.16px;width:800.00px;text-align:center;top:1366.16px;">1 / 2</div>
<div style="left:1106.16px;top:1361.60px;width:152.68px;height:30.80px;background:#f5f5f5;border:1.60px solid #e3e3e3;border-radius:5.20px;"></div>
<div style="left:1106.16px;top:1361.60px;width:152.68px;height:30.80px;background:#d9504e;border-radius:5.20px;"></div>
<div style="font-size:19.20px;line-height:19.20px;color:rgba(20,20,20,0.66);font-weight:normal;white-space:nowrap;letter-spacing:-0.14px;left:785.24px;width:800.00px;text-align:center;top:1366.16px;">0 / 1</div>
<div style="left:1265.24px;top:1361.60px;width:152.68px;height:30.80px;background:#f5f5f5;border:1.60px solid #e3e3e3;border-radius:5.20px;"></div>
<div style="left:1265.24px;top:1361.60px;width:152.68px;height:30.80px;background:#d9504e;border-radius:5.20px;"></div>
<div style="font-size:19.20px;line-height:19.20px;color:rgba(20,20,20,0.66);font-weight:normal;white-space:nowrap;letter-spacing:-0.14px;left:944.32px;width:800.00px;text-align:center;top:1366.16px;">0 / 1</div>
<div style="left:1424.32px;top:1361.60px;width:152.68px;height:30.80px;background:#f5f5f5;border:1.60px solid #e3e3e3;border-radius:5.20px;"></div>
<div style="left:1424.32px;top:1361.60px;width:76.34px;height:30.80px;background:#d9504e;border-radius:5.20px;"></div>
<div style="font-size:19.20px;line-height:19.20px;color:rgba(20,20,20,0.66);font-weight:normal;white-space:nowrap;letter-spacing:-0.14px;left:1103.40px;width:800.00px;text-align:center;top:1366.16px;">2 / 4</div>
<div style="left:1583.40px;top:1361.60px;width:152.68px;height:30.80px;background:#f5f5f5;border:1.60px solid #e3e3e3;border-radius:5.20px;"></div>
<div style="left:1583.40px;top:1361.60px;width:101.79px;height:30.80px;background:#4fb054;border-radius:5.20px;"></div>
<div style="font-size:19.20px;line-height:19.20px;color:rgba(20,20,20,0.66);font-weight:normal;white-space:nowrap;letter-spacing:-0.14px;left:1262.48px;width:800.00px;text-align:center;top:1366.16px;">2 / 3</div>
<div style="left:1742.48px;top:1361.60px;width:152.68px;height:30.80px;background:#f5f5f5;border:1.60px solid #e3e3e3;border-radius:5.20px;"></div>
<div style="left:1742.48px;top:1361.60px;width:76.34px;height:30.80px;background:#d9504e;border-radius:5.20px;"></div>
<div style="font-size:19.20px;line-height:19.20px;color:rgba(20,20,20,0.66);font-weight:normal;white-space:nowrap;letter-spacing:-0.14px;left:1421.56px;width:800.00px;text-align:center;top:1366.16px;">2 / 4</div>
<div style="left:1901.56px;top:1361.60px;width:152.68px;height:30.80px;background:#f5f5f5;border:1.60px solid #e3e3e3;border-radius:5.20px;"></div>
<div style="left:1901.56px;top:1361.60px;width:152.68px;height:30.80px;background:#4fb054;border-radius:5.20px;"></div>
<div style="font-size:19.20px;line-height:19.20px;color:rgba(20,20,20,0.66);font-weight:normal;white-space:nowrap;letter-spacing:-0.14px;left:1580.64px;width:800.00px;text-align:center;top:1366.16px;">3 / 3</div>
<div style="left:2060.64px;top:1361.60px;width:152.68px;height:30.80px;background:#f5f5f5;border:1.60px solid #e3e3e3;border-radius:5.20px;"></div>
<div style="left:2060.64px;top:1361.60px;width:50.89px;height:30.80px;background:#d9504e;border-radius:5.20px;"></div>
<div style="font-size:19.20px;line-height:19.20px;color:rgba(20,20,20,0.66);font-weight:normal;white-space:nowrap;letter-spacing:-0.14px;left:1739.72px;width:800.00px;text-align:center;top:1366.16px;">1 / 3</div>
<div style="left:2219.72px;top:1361.60px;width:152.68px;height:30.80px;background:#f5f5f5;border:1.60px solid #e3e3e3;border-radius:5.20px;"></div>
<div style="left:2219.72px;top:1361.60px;width:101.79px;height:30.80px;background:#4fb054;border-radius:5.20px;"></div>
<div style="font-size:19.20px;line-height:19.20px;color:rgba(20,20,20,0.66);font-weight:normal;white-space:nowrap;letter-spacing:-0.14px;left:1898.80px;width:800.00px;text-align:center;top:1366.16px;">2 / 3</div>
<div style="left:310.80px;top:1430.00px;width:2066.40px;height:2.00px;background:#ececec;"></div>
<div style="font-size:19.20px;line-height:19.20px;color:#4a4a4a;font-weight:normal;white-space:nowrap;letter-spacing:-0.90px;left:319.60px;top:1401.76px;">Gilliam, Jaitrell - 474789</div>
<div style="font-size:19.20px;line-height:19.20px;color:#4a4a4a;font-weight:normal;white-space:nowrap;letter-spacing:-0.53px;left:320.92px;width:800.00px;text-align:center;top:1401.76px;">1</div>
<div style="left:788.00px;top:1397.60px;width:152.68px;height:30.80px;background:#f5f5f5;border:1.60px solid #e3e3e3;border-radius:5.20px;"></div>
<div style="left:788.00px;top:1397.60px;width:152.68px;height:30.80px;background:#4fb054;border-radius:5.20px;"></div>
<div style="font-size:19.20px;line-height:19.20px;color:rgba(20,20,20,0.66);font-weight:normal;white-space:nowrap;letter-spacing:-0.14px;left:467.08px;width:800.00px;text-align:center;top:1402.16px;">1 / 1</div>
<div style="left:947.08px;top:1397.60px;width:152.68px;height:30.80px;background:#f5f5f5;border:1.60px solid #e3e3e3;border-radius:5.20px;"></div>
<div style="left:947.08px;top:1397.60px;width:76.34px;height:30.80px;background:#4fb054;border-radius:5.20px;"></div>
<div style="font-size:19.20px;line-height:19.20px;color:rgba(20,20,20,0.66);font-weight:normal;white-space:nowrap;letter-spacing:-0.14px;left:626.16px;width:800.00px;text-align:center;top:1402.16px;">1 / 2</div>
<div style="left:1106.16px;top:1397.60px;width:152.68px;height:30.80px;background:#f5f5f5;border:1.60px solid #e3e3e3;border-radius:5.20px;"></div>
<div style="left:1106.16px;top:1397.60px;width:152.68px;height:30.80px;background:#d9504e;border-radius:5.20px;"></div>
<div style="font-size:19.20px;line-height:19.20px;color:rgba(20,20,20,0.66);font-weight:normal;white-space:nowrap;letter-spacing:-0.14px;left:785.24px;width:800.00px;text-align:center;top:1402.16px;">0 / 1</div>
<div style="left:1265.24px;top:1397.60px;width:152.68px;height:30.80px;background:#f5f5f5;border:1.60px solid #e3e3e3;border-radius:5.20px;"></div>
<div style="left:1265.24px;top:1397.60px;width:152.68px;height:30.80px;background:#d9504e;border-radius:5.20px;"></div>
<div style="font-size:19.20px;line-height:19.20px;color:rgba(20,20,20,0.66);font-weight:normal;white-space:nowrap;letter-spacing:-0.14px;left:944.32px;width:800.00px;text-align:center;top:1402.16px;">0 / 1</div>
<div style="left:1424.32px;top:1397.60px;width:152.68px;height:30.80px;background:#f5f5f5;border:1.60px solid #e3e3e3;border-radius:5.20px;"></div>
<div style="left:1424.32px;top:1397.60px;width:114.51px;height:30.80px;background:#4fb054;border-radius:5.20px;"></div>
<div style="font-size:19.20px;line-height:19.20px;color:rgba(20,20,20,0.66);font-weight:normal;white-space:nowrap;letter-spacing:-0.14px;left:1103.40px;width:800.00px;text-align:center;top:1402.16px;">3 / 4</div>
<div style="left:1583.40px;top:1397.60px;width:152.68px;height:30.80px;background:#f5f5f5;border:1.60px solid #e3e3e3;border-radius:5.20px;"></div>
<div style="left:1583.40px;top:1397.60px;width:101.79px;height:30.80px;background:#4fb054;border-radius:5.20px;"></div>
<div style="font-size:19.20px;line-height:19.20px;color:rgba(20,20,20,0.66);font-weight:normal;white-space:nowrap;letter-spacing:-0.14px;left:1262.48px;width:800.00px;text-align:center;top:1402.16px;">2 / 3</div>
<div style="left:1742.48px;top:1397.60px;width:152.68px;height:30.80px;background:#f5f5f5;border:1.60px solid #e3e3e3;border-radius:5.20px;"></div>
<div style="left:1742.48px;top:1397.60px;width:38.17px;height:30.80px;background:#d9504e;border-radius:5.20px;"></div>
<div style="font-size:19.20px;line-height:19.20px;color:rgba(20,20,20,0.66);font-weight:normal;white-space:nowrap;letter-spacing:-0.14px;left:1421.56px;width:800.00px;text-align:center;top:1402.16px;">1 / 4</div>
<div style="left:1901.56px;top:1397.60px;width:152.68px;height:30.80px;background:#f5f5f5;border:1.60px solid #e3e3e3;border-radius:5.20px;"></div>
<div style="left:1901.56px;top:1397.60px;width:152.68px;height:30.80px;background:#4fb054;border-radius:5.20px;"></div>
<div style="font-size:19.20px;line-height:19.20px;color:rgba(20,20,20,0.66);font-weight:normal;white-space:nowrap;letter-spacing:-0.14px;left:1580.64px;width:800.00px;text-align:center;top:1402.16px;">3 / 3</div>
<div style="left:2060.64px;top:1397.60px;width:152.68px;height:30.80px;background:#f5f5f5;border:1.60px solid #e3e3e3;border-radius:5.20px;"></div>
<div style="left:2060.64px;top:1397.60px;width:50.89px;height:30.80px;background:#d9504e;border-radius:5.20px;"></div>
<div style="font-size:19.20px;line-height:19.20px;color:rgba(20,20,20,0.66);font-weight:normal;white-space:nowrap;letter-spacing:-0.14px;left:1739.72px;width:800.00px;text-align:center;top:1402.16px;">1 / 3</div>
<div style="left:2219.72px;top:1397.60px;width:152.68px;height:30.80px;background:#f5f5f5;border:1.60px solid #e3e3e3;border-radius:5.20px;"></div>
<div style="left:2219.72px;top:1397.60px;width:101.79px;height:30.80px;background:#4fb054;border-radius:5.20px;"></div>
<div style="font-size:19.20px;line-height:19.20px;color:rgba(20,20,20,0.66);font-weight:normal;white-space:nowrap;letter-spacing:-0.14px;left:1898.80px;width:800.00px;text-align:center;top:1402.16px;">2 / 3</div>
<div style="left:310.80px;top:1466.00px;width:2066.40px;height:2.00px;background:#ececec;"></div>
<div style="font-size:19.20px;line-height:19.20px;color:#4a4a4a;font-weight:normal;white-space:nowrap;letter-spacing:-1.03px;left:319.60px;top:1437.76px;">Greene, Dynysti - 420638</div>
<div style="font-size:19.20px;line-height:19.20px;color:#4a4a4a;font-weight:normal;white-space:nowrap;letter-spacing:-0.53px;left:320.92px;width:800.00px;text-align:center;top:1437.76px;">1</div>
<div style="left:788.00px;top:1433.60px;width:152.68px;height:30.80px;background:#f5f5f5;border:1.60px solid #e3e3e3;border-radius:5.20px;"></div>
<div style="left:788.00px;top:1433.60px;width:152.68px;height:30.80px;background:#d9504e;border-radius:5.20px;"></div>
<div style="font-size:19.20px;line-height:19.20px;color:rgba(20,20,20,0.66);font-weight:normal;white-space:nowrap;letter-spacing:-0.14px;left:467.08px;width:800.00px;text-align:center;top:1438.16px;">0 / 1</div>
<div style="left:947.08px;top:1433.60px;width:152.68px;height:30.80px;background:#f5f5f5;border:1.60px solid #e3e3e3;border-radius:5.20px;"></div>
<div style="left:947.08px;top:1433.60px;width:152.68px;height:30.80px;background:#d9504e;border-radius:5.20px;"></div>
<div style="font-size:19.20px;line-height:19.20px;color:rgba(20,20,20,0.66);font-weight:normal;white-space:nowrap;letter-spacing:-0.14px;left:626.16px;width:800.00px;text-align:center;top:1438.16px;">0 / 2</div>
<div style="left:1106.16px;top:1433.60px;width:152.68px;height:30.80px;background:#f5f5f5;border:1.60px solid #e3e3e3;border-radius:5.20px;"></div>
<div style="left:1106.16px;top:1433.60px;width:152.68px;height:30.80px;background:#d9504e;border-radius:5.20px;"></div>
<div style="font-size:19.20px;line-height:19.20px;color:rgba(20,20,20,0.66);font-weight:normal;white-space:nowrap;letter-spacing:-0.14px;left:785.24px;width:800.00px;text-align:center;top:1438.16px;">0 / 1</div>
<div style="left:1265.24px;top:1433.60px;width:152.68px;height:30.80px;background:#f5f5f5;border:1.60px solid #e3e3e3;border-radius:5.20px;"></div>
<div style="left:1265.24px;top:1433.60px;width:152.68px;height:30.80px;background:#d9504e;border-radius:5.20px;"></div>
<div style="font-size:19.20px;line-height:19.20px;color:rgba(20,20,20,0.66);font-weight:normal;white-space:nowrap;letter-spacing:-0.14px;left:944.32px;width:800.00px;text-align:center;top:1438.16px;">0 / 1</div>
<div style="left:1424.32px;top:1433.60px;width:152.68px;height:30.80px;background:#f5f5f5;border:1.60px solid #e3e3e3;border-radius:5.20px;"></div>
<div style="left:1424.32px;top:1433.60px;width:76.34px;height:30.80px;background:#d9504e;border-radius:5.20px;"></div>
<div style="font-size:19.20px;line-height:19.20px;color:rgba(20,20,20,0.66);font-weight:normal;white-space:nowrap;letter-spacing:-0.14px;left:1103.40px;width:800.00px;text-align:center;top:1438.16px;">2 / 4</div>
<div style="left:1583.40px;top:1433.60px;width:152.68px;height:30.80px;background:#f5f5f5;border:1.60px solid #e3e3e3;border-radius:5.20px;"></div>
<div style="left:1583.40px;top:1433.60px;width:50.89px;height:30.80px;background:#d9504e;border-radius:5.20px;"></div>
<div style="font-size:19.20px;line-height:19.20px;color:rgba(20,20,20,0.66);font-weight:normal;white-space:nowrap;letter-spacing:-0.14px;left:1262.48px;width:800.00px;text-align:center;top:1438.16px;">1 / 3</div>
<div style="left:1742.48px;top:1433.60px;width:152.68px;height:30.80px;background:#f5f5f5;border:1.60px solid #e3e3e3;border-radius:5.20px;"></div>
<div style="left:1742.48px;top:1433.60px;width:76.34px;height:30.80px;background:#d9504e;border-radius:5.20px;"></div>
<div style="font-size:19.20px;line-height:19.20px;color:rgba(20,20,20,0.66);font-weight:normal;white-space:nowrap;letter-spacing:-0.14px;left:1421.56px;width:800.00px;text-align:center;top:1438.16px;">2 / 4</div>
<div style="left:1901.56px;top:1433.60px;width:152.68px;height:30.80px;background:#f5f5f5;border:1.60px solid #e3e3e3;border-radius:5.20px;"></div>
<div style="left:1901.56px;top:1433.60px;width:50.89px;height:30.80px;background:#d9504e;border-radius:5.20px;"></div>
<div style="font-size:19.20px;line-height:19.20px;color:rgba(20,20,20,0.66);font-weight:normal;white-space:nowrap;letter-spacing:-0.14px;left:1580.64px;width:800.00px;text-align:center;top:1438.16px;">1 / 3</div>
<div style="left:2060.64px;top:1433.60px;width:152.68px;height:30.80px;background:#f5f5f5;border:1.60px solid #e3e3e3;border-radius:5.20px;"></div>
<div style="left:2060.64px;top:1433.60px;width:152.68px;height:30.80px;background:#d9504e;border-radius:5.20px;"></div>
<div style="font-size:19.20px;line-height:19.20px;color:rgba(20,20,20,0.66);font-weight:normal;white-space:nowrap;letter-spacing:-0.14px;left:1739.72px;width:800.00px;text-align:center;top:1438.16px;">0 / 3</div>
<div style="left:2219.72px;top:1433.60px;width:152.68px;height:30.80px;background:#f5f5f5;border:1.60px solid #e3e3e3;border-radius:5.20px;"></div>
<div style="left:2219.72px;top:1433.60px;width:152.68px;height:30.80px;background:#d9504e;border-radius:5.20px;"></div>
<div style="font-size:19.20px;line-height:19.20px;color:rgba(20,20,20,0.66);font-weight:normal;white-space:nowrap;letter-spacing:-0.14px;left:1898.80px;width:800.00px;text-align:center;top:1438.16px;">0 / 3</div>
<div style="left:310.80px;top:1502.00px;width:2066.40px;height:2.00px;background:#ececec;"></div>
<div style="font-size:19.20px;line-height:19.20px;color:#4a4a4a;font-weight:normal;white-space:nowrap;letter-spacing:-0.96px;left:319.60px;top:1473.76px;">Johnson, Elliott - 464988</div>
<div style="font-size:19.20px;line-height:19.20px;color:#4a4a4a;font-weight:normal;white-space:nowrap;letter-spacing:-0.53px;left:320.92px;width:800.00px;text-align:center;top:1473.76px;">1</div>
<div style="left:788.00px;top:1469.60px;width:152.68px;height:30.80px;background:#f5f5f5;border:1.60px solid #e3e3e3;border-radius:5.20px;"></div>
<div style="left:788.00px;top:1469.60px;width:152.68px;height:30.80px;background:#d9504e;border-radius:5.20px;"></div>
<div style="font-size:19.20px;line-height:19.20px;color:rgba(20,20,20,0.66);font-weight:normal;white-space:nowrap;letter-spacing:-0.14px;left:467.08px;width:800.00px;text-align:center;top:1474.16px;">0 / 1</div>
<div style="left:947.08px;top:1469.60px;width:152.68px;height:30.80px;background:#f5f5f5;border:1.60px solid #e3e3e3;border-radius:5.20px;"></div>
<div style="left:947.08px;top:1469.60px;width:76.34px;height:30.80px;background:#4fb054;border-radius:5.20px;"></div>
<div style="font-size:19.20px;line-height:19.20px;color:rgba(20,20,20,0.66);font-weight:normal;white-space:nowrap;letter-spacing:-0.14px;left:626.16px;width:800.00px;text-align:center;top:1474.16px;">1 / 2</div>
<div style="left:1106.16px;top:1469.60px;width:152.68px;height:30.80px;background:#f5f5f5;border:1.60px solid #e3e3e3;border-radius:5.20px;"></div>
<div style="left:1106.16px;top:1469.60px;width:152.68px;height:30.80px;background:#4fb054;border-radius:5.20px;"></div>
<div style="font-size:19.20px;line-height:19.20px;color:rgba(20,20,20,0.66);font-weight:normal;white-space:nowrap;letter-spacing:-0.14px;left:785.24px;width:800.00px;text-align:center;top:1474.16px;">1 / 1</div>
<div style="left:1265.24px;top:1469.60px;width:152.68px;height:30.80px;background:#f5f5f5;border:1.60px solid #e3e3e3;border-radius:5.20px;"></div>
<div style="left:1265.24px;top:1469.60px;width:152.68px;height:30.80px;background:#4fb054;border-radius:5.20px;"></div>
<div style="font-size:19.20px;line-height:19.20px;color:rgba(20,20,20,0.66);font-weight:normal;white-space:nowrap;letter-spacing:-0.14px;left:944.32px;width:800.00px;text-align:center;top:1474.16px;">1 / 1</div>
<div style="left:1424.32px;top:1469.60px;width:152.68px;height:30.80px;background:#f5f5f5;border:1.60px solid #e3e3e3;border-radius:5.20px;"></div>
<div style="left:1424.32px;top:1469.60px;width:152.68px;height:30.80px;background:#4fb054;border-radius:5.20px;"></div>
<div style="font-size:19.20px;line-height:19.20px;color:rgba(20,20,20,0.66);font-weight:normal;white-space:nowrap;letter-spacing:-0.14px;left:1103.40px;width:800.00px;text-align:center;top:1474.16px;">4 / 4</div>
<div style="left:1583.40px;top:1469.60px;width:152.68px;height:30.80px;background:#f5f5f5;border:1.60px solid #e3e3e3;border-radius:5.20px;"></div>
<div style="left:1583.40px;top:1469.60px;width:152.68px;height:30.80px;background:#4fb054;border-radius:5.20px;"></div>
<div style="font-size:19.20px;line-height:19.20px;color:rgba(20,20,20,0.66);font-weight:normal;white-space:nowrap;letter-spacing:-0.14px;left:1262.48px;width:800.00px;text-align:center;top:1474.16px;">3 / 3</div>
<div style="left:1742.48px;top:1469.60px;width:152.68px;height:30.80px;background:#f5f5f5;border:1.60px solid #e3e3e3;border-radius:5.20px;"></div>
<div style="left:1742.48px;top:1469.60px;width:76.34px;height:30.80px;background:#d9504e;border-radius:5.20px;"></div>
<div style="font-size:19.20px;line-height:19.20px;color:rgba(20,20,20,0.66);font-weight:normal;white-space:nowrap;letter-spacing:-0.14px;left:1421.56px;width:800.00px;text-align:center;top:1474.16px;">2 / 4</div>
<div style="left:1901.56px;top:1469.60px;width:152.68px;height:30.80px;background:#f5f5f5;border:1.60px solid #e3e3e3;border-radius:5.20px;"></div>
<div style="left:1901.56px;top:1469.60px;width:101.79px;height:30.80px;background:#4fb054;border-radius:5.20px;"></div>
<div style="font-size:19.20px;line-height:19.20px;color:rgba(20,20,20,0.66);font-weight:normal;white-space:nowrap;letter-spacing:-0.14px;left:1580.64px;width:800.00px;text-align:center;top:1474.16px;">2 / 3</div>
<div style="left:2060.64px;top:1469.60px;width:152.68px;height:30.80px;background:#f5f5f5;border:1.60px solid #e3e3e3;border-radius:5.20px;"></div>
<div style="left:2060.64px;top:1469.60px;width:101.79px;height:30.80px;background:#4fb054;border-radius:5.20px;"></div>
<div style="font-size:19.20px;line-height:19.20px;color:rgba(20,20,20,0.66);font-weight:normal;white-space:nowrap;letter-spacing:-0.14px;left:1739.72px;width:800.00px;text-align:center;top:1474.16px;">2 / 3</div>
<div style="left:2219.72px;top:1469.60px;width:152.68px;height:30.80px;background:#f5f5f5;border:1.60px solid #e3e3e3;border-radius:5.20px;"></div>
<div style="left:2219.72px;top:1469.60px;width:101.79px;height:30.80px;background:#4fb054;border-radius:5.20px;"></div>
<div style="font-size:19.20px;line-height:19.20px;color:rgba(20,20,20,0.66);font-weight:normal;white-space:nowrap;letter-spacing:-0.14px;left:1898.80px;width:800.00px;text-align:center;top:1474.16px;">2 / 3</div>
<div style="left:310.80px;top:1538.00px;width:2066.40px;height:2.00px;background:#ececec;"></div>
<div style="font-size:19.20px;line-height:19.20px;color:#4a4a4a;font-weight:normal;white-space:nowrap;letter-spacing:-1.03px;left:319.60px;top:1509.76px;">Johnson, Kelian - 424924</div>
<div style="font-size:19.20px;line-height:19.20px;color:#4a4a4a;font-weight:normal;white-space:nowrap;letter-spacing:-0.53px;left:320.92px;width:800.00px;text-align:center;top:1509.76px;">1</div>
<div style="left:788.00px;top:1505.60px;width:152.68px;height:30.80px;background:#f5f5f5;border:1.60px solid #e3e3e3;border-radius:5.20px;"></div>
<div style="left:788.00px;top:1505.60px;width:152.68px;height:30.80px;background:#d9504e;border-radius:5.20px;"></div>
<div style="font-size:19.20px;line-height:19.20px;color:rgba(20,20,20,0.66);font-weight:normal;white-space:nowrap;letter-spacing:-0.14px;left:467.08px;width:800.00px;text-align:center;top:1510.16px;">0 / 1</div>
<div style="left:947.08px;top:1505.60px;width:152.68px;height:30.80px;background:#f5f5f5;border:1.60px solid #e3e3e3;border-radius:5.20px;"></div>
<div style="left:947.08px;top:1505.60px;width:152.68px;height:30.80px;background:#4fb054;border-radius:5.20px;"></div>
<div style="font-size:19.20px;line-height:19.20px;color:rgba(20,20,20,0.66);font-weight:normal;white-space:nowrap;letter-spacing:-0.14px;left:626.16px;width:800.00px;text-align:center;top:1510.16px;">2 / 2</div>
<div style="left:1106.16px;top:1505.60px;width:152.68px;height:30.80px;background:#f5f5f5;border:1.60px solid #e3e3e3;border-radius:5.20px;"></div>
<div style="left:1106.16px;top:1505.60px;width:152.68px;height:30.80px;background:#4fb054;border-radius:5.20px;"></div>
<div style="font-size:19.20px;line-height:19.20px;color:rgba(20,20,20,0.66);font-weight:normal;white-space:nowrap;letter-spacing:-0.14px;left:785.24px;width:800.00px;text-align:center;top:1510.16px;">1 / 1</div>
<div style="left:1265.24px;top:1505.60px;width:152.68px;height:30.80px;background:#f5f5f5;border:1.60px solid #e3e3e3;border-radius:5.20px;"></div>
<div style="left:1265.24px;top:1505.60px;width:152.68px;height:30.80px;background:#4fb054;border-radius:5.20px;"></div>
<div style="font-size:19.20px;line-height:19.20px;color:rgba(20,20,20,0.66);font-weight:normal;white-space:nowrap;letter-spacing:-0.14px;left:944.32px;width:800.00px;text-align:center;top:1510.16px;">1 / 1</div>
<div style="left:1424.32px;top:1505.60px;width:152.68px;height:30.80px;background:#f5f5f5;border:1.60px solid #e3e3e3;border-radius:5.20px;"></div>
<div style="left:1424.32px;top:1505.60px;width:114.51px;height:30.80px;background:#4fb054;border-radius:5.20px;"></div>
<div style="font-size:19.20px;line-height:19.20px;color:rgba(20,20,20,0.66);font-weight:normal;white-space:nowrap;letter-spacing:-0.14px;left:1103.40px;width:800.00px;text-align:center;top:1510.16px;">3 / 4</div>
<div style="left:1583.40px;top:1505.60px;width:152.68px;height:30.80px;background:#f5f5f5;border:1.60px solid #e3e3e3;border-radius:5.20px;"></div>
<div style="left:1583.40px;top:1505.60px;width:152.68px;height:30.80px;background:#4fb054;border-radius:5.20px;"></div>
<div style="font-size:19.20px;line-height:19.20px;color:rgba(20,20,20,0.66);font-weight:normal;white-space:nowrap;letter-spacing:-0.14px;left:1262.48px;width:800.00px;text-align:center;top:1510.16px;">3 / 3</div>
<div style="left:1742.48px;top:1505.60px;width:152.68px;height:30.80px;background:#f5f5f5;border:1.60px solid #e3e3e3;border-radius:5.20px;"></div>
<div style="left:1742.48px;top:1505.60px;width:114.51px;height:30.80px;background:#4fb054;border-radius:5.20px;"></div>
<div style="font-size:19.20px;line-height:19.20px;color:rgba(20,20,20,0.66);font-weight:normal;white-space:nowrap;letter-spacing:-0.14px;left:1421.56px;width:800.00px;text-align:center;top:1510.16px;">3 / 4</div>
<div style="left:1901.56px;top:1505.60px;width:152.68px;height:30.80px;background:#f5f5f5;border:1.60px solid #e3e3e3;border-radius:5.20px;"></div>
<div style="left:1901.56px;top:1505.60px;width:101.79px;height:30.80px;background:#4fb054;border-radius:5.20px;"></div>
<div style="font-size:19.20px;line-height:19.20px;color:rgba(20,20,20,0.66);font-weight:normal;white-space:nowrap;letter-spacing:-0.14px;left:1580.64px;width:800.00px;text-align:center;top:1510.16px;">2 / 3</div>
<div style="left:2060.64px;top:1505.60px;width:152.68px;height:30.80px;background:#f5f5f5;border:1.60px solid #e3e3e3;border-radius:5.20px;"></div>
<div style="left:2060.64px;top:1505.60px;width:152.68px;height:30.80px;background:#4fb054;border-radius:5.20px;"></div>
<div style="font-size:19.20px;line-height:19.20px;color:rgba(20,20,20,0.66);font-weight:normal;white-space:nowrap;letter-spacing:-0.14px;left:1739.72px;width:800.00px;text-align:center;top:1510.16px;">3 / 3</div>
<div style="left:2219.72px;top:1505.60px;width:152.68px;height:30.80px;background:#f5f5f5;border:1.60px solid #e3e3e3;border-radius:5.20px;"></div>
<div style="left:2219.72px;top:1505.60px;width:101.79px;height:30.80px;background:#4fb054;border-radius:5.20px;"></div>
<div style="font-size:19.20px;line-height:19.20px;color:rgba(20,20,20,0.66);font-weight:normal;white-space:nowrap;letter-spacing:-0.14px;left:1898.80px;width:800.00px;text-align:center;top:1510.16px;">2 / 3</div>
<div style="left:310.80px;top:1574.00px;width:2066.40px;height:2.00px;background:#ececec;"></div>
<div style="font-size:19.20px;line-height:19.20px;color:#4a4a4a;font-weight:normal;white-space:nowrap;letter-spacing:-1.03px;left:319.60px;top:1545.76px;">Rosario, Jacob - 473892</div>
<div style="font-size:19.20px;line-height:19.20px;color:#4a4a4a;font-weight:normal;white-space:nowrap;letter-spacing:-0.53px;left:320.92px;width:800.00px;text-align:center;top:1545.76px;">1</div>
<div style="left:788.00px;top:1541.60px;width:152.68px;height:30.80px;background:#f5f5f5;border:1.60px solid #e3e3e3;border-radius:5.20px;"></div>
<div style="left:788.00px;top:1541.60px;width:152.68px;height:30.80px;background:#d9504e;border-radius:5.20px;"></div>
<div style="font-size:19.20px;line-height:19.20px;color:rgba(20,20,20,0.66);font-weight:normal;white-space:nowrap;letter-spacing:-0.14px;left:467.08px;width:800.00px;text-align:center;top:1546.16px;">0 / 1</div>
<div style="left:947.08px;top:1541.60px;width:152.68px;height:30.80px;background:#f5f5f5;border:1.60px solid #e3e3e3;border-radius:5.20px;"></div>
<div style="left:947.08px;top:1541.60px;width:152.68px;height:30.80px;background:#4fb054;border-radius:5.20px;"></div>
<div style="font-size:19.20px;line-height:19.20px;color:rgba(20,20,20,0.66);font-weight:normal;white-space:nowrap;letter-spacing:-0.14px;left:626.16px;width:800.00px;text-align:center;top:1546.16px;">2 / 2</div>
<div style="left:1106.16px;top:1541.60px;width:152.68px;height:30.80px;background:#f5f5f5;border:1.60px solid #e3e3e3;border-radius:5.20px;"></div>
<div style="left:1106.16px;top:1541.60px;width:152.68px;height:30.80px;background:#d9504e;border-radius:5.20px;"></div>
<div style="font-size:19.20px;line-height:19.20px;color:rgba(20,20,20,0.66);font-weight:normal;white-space:nowrap;letter-spacing:-0.14px;left:785.24px;width:800.00px;text-align:center;top:1546.16px;">0 / 1</div>
<div style="left:1265.24px;top:1541.60px;width:152.68px;height:30.80px;background:#f5f5f5;border:1.60px solid #e3e3e3;border-radius:5.20px;"></div>
<div style="left:1265.24px;top:1541.60px;width:152.68px;height:30.80px;background:#d9504e;border-radius:5.20px;"></div>
<div style="font-size:19.20px;line-height:19.20px;color:rgba(20,20,20,0.66);font-weight:normal;white-space:nowrap;letter-spacing:-0.14px;left:944.32px;width:800.00px;text-align:center;top:1546.16px;">0 / 1</div>
<div style="left:1424.32px;top:1541.60px;width:152.68px;height:30.80px;background:#f5f5f5;border:1.60px solid #e3e3e3;border-radius:5.20px;"></div>
<div style="left:1424.32px;top:1541.60px;width:114.51px;height:30.80px;background:#4fb054;border-radius:5.20px;"></div>
<div style="font-size:19.20px;line-height:19.20px;color:rgba(20,20,20,0.66);font-weight:normal;white-space:nowrap;letter-spacing:-0.14px;left:1103.40px;width:800.00px;text-align:center;top:1546.16px;">3 / 4</div>
<div style="left:1583.40px;top:1541.60px;width:152.68px;height:30.80px;background:#f5f5f5;border:1.60px solid #e3e3e3;border-radius:5.20px;"></div>
<div style="left:1583.40px;top:1541.60px;width:152.68px;height:30.80px;background:#4fb054;border-radius:5.20px;"></div>
<div style="font-size:19.20px;line-height:19.20px;color:rgba(20,20,20,0.66);font-weight:normal;white-space:nowrap;letter-spacing:-0.14px;left:1262.48px;width:800.00px;text-align:center;top:1546.16px;">3 / 3</div>
<div style="left:1742.48px;top:1541.60px;width:152.68px;height:30.80px;background:#f5f5f5;border:1.60px solid #e3e3e3;border-radius:5.20px;"></div>
<div style="left:1742.48px;top:1541.60px;width:38.17px;height:30.80px;background:#d9504e;border-radius:5.20px;"></div>
<div style="font-size:19.20px;line-height:19.20px;color:rgba(20,20,20,0.66);font-weight:normal;white-space:nowrap;letter-spacing:-0.14px;left:1421.56px;width:800.00px;text-align:center;top:1546.16px;">1 / 4</div>
<div style="left:1901.56px;top:1541.60px;width:152.68px;height:30.80px;background:#f5f5f5;border:1.60px solid #e3e3e3;border-radius:5.20px;"></div>
<div style="left:1901.56px;top:1541.60px;width:101.79px;height:30.80px;background:#4fb054;border-radius:5.20px;"></div>
<div style="font-size:19.20px;line-height:19.20px;color:rgba(20,20,20,0.66);font-weight:normal;white-space:nowrap;letter-spacing:-0.14px;left:1580.64px;width:800.00px;text-align:center;top:1546.16px;">2 / 3</div>
<div style="left:2060.64px;top:1541.60px;width:152.68px;height:30.80px;background:#f5f5f5;border:1.60px solid #e3e3e3;border-radius:5.20px;"></div>
<div style="left:2060.64px;top:1541.60px;width:101.79px;height:30.80px;background:#4fb054;border-radius:5.20px;"></div>
<div style="font-size:19.20px;line-height:19.20px;color:rgba(20,20,20,0.66);font-weight:normal;white-space:nowrap;letter-spacing:-0.14px;left:1739.72px;width:800.00px;text-align:center;top:1546.16px;">2 / 3</div>
<div style="left:2219.72px;top:1541.60px;width:152.68px;height:30.80px;background:#f5f5f5;border:1.60px solid #e3e3e3;border-radius:5.20px;"></div>
<div style="left:2219.72px;top:1541.60px;width:101.79px;height:30.80px;background:#4fb054;border-radius:5.20px;"></div>
<div style="font-size:19.20px;line-height:19.20px;color:rgba(20,20,20,0.66);font-weight:normal;white-space:nowrap;letter-spacing:-0.14px;left:1898.80px;width:800.00px;text-align:center;top:1546.16px;">2 / 3</div>
<div style="left:310.80px;top:1610.00px;width:2066.40px;height:2.00px;background:#ececec;"></div>
<div style="font-size:19.20px;line-height:19.20px;color:#4a4a4a;font-weight:normal;white-space:nowrap;letter-spacing:-1.05px;left:319.60px;top:1581.76px;">Soash, Contale - 470598</div>
<div style="font-size:19.20px;line-height:19.20px;color:#4a4a4a;font-weight:normal;white-space:nowrap;letter-spacing:-0.53px;left:320.92px;width:800.00px;text-align:center;top:1581.76px;">1</div>
<div style="left:788.00px;top:1577.60px;width:152.68px;height:30.80px;background:#f5f5f5;border:1.60px solid #e3e3e3;border-radius:5.20px;"></div>
<div style="left:788.00px;top:1577.60px;width:152.68px;height:30.80px;background:#4fb054;border-radius:5.20px;"></div>
<div style="font-size:19.20px;line-height:19.20px;color:rgba(20,20,20,0.66);font-weight:normal;white-space:nowrap;letter-spacing:-0.14px;left:467.08px;width:800.00px;text-align:center;top:1582.16px;">1 / 1</div>
<div style="left:947.08px;top:1577.60px;width:152.68px;height:30.80px;background:#f5f5f5;border:1.60px solid #e3e3e3;border-radius:5.20px;"></div>
<div style="left:947.08px;top:1577.60px;width:76.34px;height:30.80px;background:#4fb054;border-radius:5.20px;"></div>
<div style="font-size:19.20px;line-height:19.20px;color:rgba(20,20,20,0.66);font-weight:normal;white-space:nowrap;letter-spacing:-0.14px;left:626.16px;width:800.00px;text-align:center;top:1582.16px;">1 / 2</div>
<div style="left:1106.16px;top:1577.60px;width:152.68px;height:30.80px;background:#f5f5f5;border:1.60px solid #e3e3e3;border-radius:5.20px;"></div>
<div style="left:1106.16px;top:1577.60px;width:152.68px;height:30.80px;background:#4fb054;border-radius:5.20px;"></div>
<div style="font-size:19.20px;line-height:19.20px;color:rgba(20,20,20,0.66);font-weight:normal;white-space:nowrap;letter-spacing:-0.14px;left:785.24px;width:800.00px;text-align:center;top:1582.16px;">1 / 1</div>
<div style="left:1265.24px;top:1577.60px;width:152.68px;height:30.80px;background:#f5f5f5;border:1.60px solid #e3e3e3;border-radius:5.20px;"></div>
<div style="left:1265.24px;top:1577.60px;width:152.68px;height:30.80px;background:#4fb054;border-radius:5.20px;"></div>
<div style="font-size:19.20px;line-height:19.20px;color:rgba(20,20,20,0.66);font-weight:normal;white-space:nowrap;letter-spacing:-0.14px;left:944.32px;width:800.00px;text-align:center;top:1582.16px;">1 / 1</div>
<div style="left:1424.32px;top:1577.60px;width:152.68px;height:30.80px;background:#f5f5f5;border:1.60px solid #e3e3e3;border-radius:5.20px;"></div>
<div style="left:1424.32px;top:1577.60px;width:114.51px;height:30.80px;background:#4fb054;border-radius:5.20px;"></div>
<div style="font-size:19.20px;line-height:19.20px;color:rgba(20,20,20,0.66);font-weight:normal;white-space:nowrap;letter-spacing:-0.14px;left:1103.40px;width:800.00px;text-align:center;top:1582.16px;">3 / 4</div>
<div style="left:1583.40px;top:1577.60px;width:152.68px;height:30.80px;background:#f5f5f5;border:1.60px solid #e3e3e3;border-radius:5.20px;"></div>
<div style="left:1583.40px;top:1577.60px;width:101.79px;height:30.80px;background:#4fb054;border-radius:5.20px;"></div>
<div style="font-size:19.20px;line-height:19.20px;color:rgba(20,20,20,0.66);font-weight:normal;white-space:nowrap;letter-spacing:-0.14px;left:1262.48px;width:800.00px;text-align:center;top:1582.16px;">2 / 3</div>
<div style="left:1742.48px;top:1577.60px;width:152.68px;height:30.80px;background:#f5f5f5;border:1.60px solid #e3e3e3;border-radius:5.20px;"></div>
<div style="left:1742.48px;top:1577.60px;width:38.17px;height:30.80px;background:#d9504e;border-radius:5.20px;"></div>
<div style="font-size:19.20px;line-height:19.20px;color:rgba(20,20,20,0.66);font-weight:normal;white-space:nowrap;letter-spacing:-0.14px;left:1421.56px;width:800.00px;text-align:center;top:1582.16px;">1 / 4</div>
<div style="left:1901.56px;top:1577.60px;width:152.68px;height:30.80px;background:#f5f5f5;border:1.60px solid #e3e3e3;border-radius:5.20px;"></div>
<div style="left:1901.56px;top:1577.60px;width:50.89px;height:30.80px;background:#d9504e;border-radius:5.20px;"></div>
<div style="font-size:19.20px;line-height:19.20px;color:rgba(20,20,20,0.66);font-weight:normal;white-space:nowrap;letter-spacing:-0.14px;left:1580.64px;width:800.00px;text-align:center;top:1582.16px;">1 / 3</div>
<div style="left:2060.64px;top:1577.60px;width:152.68px;height:30.80px;background:#f5f5f5;border:1.60px solid #e3e3e3;border-radius:5.20px;"></div>
<div style="left:2060.64px;top:1577.60px;width:101.79px;height:30.80px;background:#4fb054;border-radius:5.20px;"></div>
<div style="font-size:19.20px;line-height:19.20px;color:rgba(20,20,20,0.66);font-weight:normal;white-space:nowrap;letter-spacing:-0.14px;left:1739.72px;width:800.00px;text-align:center;top:1582.16px;">2 / 3</div>
<div style="left:2219.72px;top:1577.60px;width:152.68px;height:30.80px;background:#f5f5f5;border:1.60px solid #e3e3e3;border-radius:5.20px;"></div>
<div style="left:2219.72px;top:1577.60px;width:152.68px;height:30.80px;background:#4fb054;border-radius:5.20px;"></div>
<div style="font-size:19.20px;line-height:19.20px;color:rgba(20,20,20,0.66);font-weight:normal;white-space:nowrap;letter-spacing:-0.14px;left:1898.80px;width:800.00px;text-align:center;top:1582.16px;">3 / 3</div>
<div style="left:310.80px;top:1646.00px;width:2066.40px;height:2.00px;background:#ececec;"></div>
<div style="font-size:19.20px;line-height:19.20px;color:#4a4a4a;font-weight:normal;white-space:nowrap;letter-spacing:-1.02px;left:319.60px;top:1617.76px;">Valverde, Kaleb - 443628</div>
<div style="font-size:19.20px;line-height:19.20px;color:#4a4a4a;font-weight:normal;white-space:nowrap;letter-spacing:-0.53px;left:320.92px;width:800.00px;text-align:center;top:1617.76px;">1</div>
<div style="left:788.00px;top:1613.60px;width:152.68px;height:30.80px;background:#f5f5f5;border:1.60px solid #e3e3e3;border-radius:5.20px;"></div>
<div style="left:788.00px;top:1613.60px;width:152.68px;height:30.80px;background:#d9504e;border-radius:5.20px;"></div>
<div style="font-size:19.20px;line-height:19.20px;color:rgba(20,20,20,0.66);font-weight:normal;white-space:nowrap;letter-spacing:-0.14px;left:467.08px;width:800.00px;text-align:center;top:1618.16px;">0 / 1</div>
<div style="left:947.08px;top:1613.60px;width:152.68px;height:30.80px;background:#f5f5f5;border:1.60px solid #e3e3e3;border-radius:5.20px;"></div>
<div style="left:947.08px;top:1613.60px;width:152.68px;height:30.80px;background:#d9504e;border-radius:5.20px;"></div>
<div style="font-size:19.20px;line-height:19.20px;color:rgba(20,20,20,0.66);font-weight:normal;white-space:nowrap;letter-spacing:-0.14px;left:626.16px;width:800.00px;text-align:center;top:1618.16px;">0 / 2</div>
<div style="left:1106.16px;top:1613.60px;width:152.68px;height:30.80px;background:#f5f5f5;border:1.60px solid #e3e3e3;border-radius:5.20px;"></div>
<div style="left:1106.16px;top:1613.60px;width:152.68px;height:30.80px;background:#d9504e;border-radius:5.20px;"></div>
<div style="font-size:19.20px;line-height:19.20px;color:rgba(20,20,20,0.66);font-weight:normal;white-space:nowrap;letter-spacing:-0.14px;left:785.24px;width:800.00px;text-align:center;top:1618.16px;">0 / 1</div>
<div style="left:1265.24px;top:1613.60px;width:152.68px;height:30.80px;background:#f5f5f5;border:1.60px solid #e3e3e3;border-radius:5.20px;"></div>
<div style="left:1265.24px;top:1613.60px;width:152.68px;height:30.80px;background:#d9504e;border-radius:5.20px;"></div>
<div style="font-size:19.20px;line-height:19.20px;color:rgba(20,20,20,0.66);font-weight:normal;white-space:nowrap;letter-spacing:-0.14px;left:944.32px;width:800.00px;text-align:center;top:1618.16px;">0 / 1</div>
<div style="left:1424.32px;top:1613.60px;width:152.68px;height:30.80px;background:#f5f5f5;border:1.60px solid #e3e3e3;border-radius:5.20px;"></div>
<div style="left:1424.32px;top:1613.60px;width:152.68px;height:30.80px;background:#d9504e;border-radius:5.20px;"></div>
<div style="font-size:19.20px;line-height:19.20px;color:rgba(20,20,20,0.66);font-weight:normal;white-space:nowrap;letter-spacing:-0.14px;left:1103.40px;width:800.00px;text-align:center;top:1618.16px;">0 / 4</div>
<div style="left:1583.40px;top:1613.60px;width:152.68px;height:30.80px;background:#f5f5f5;border:1.60px solid #e3e3e3;border-radius:5.20px;"></div>
<div style="left:1583.40px;top:1613.60px;width:50.89px;height:30.80px;background:#d9504e;border-radius:5.20px;"></div>
<div style="font-size:19.20px;line-height:19.20px;color:rgba(20,20,20,0.66);font-weight:normal;white-space:nowrap;letter-spacing:-0.14px;left:1262.48px;width:800.00px;text-align:center;top:1618.16px;">1 / 3</div>
<div style="left:1742.48px;top:1613.60px;width:152.68px;height:30.80px;background:#f5f5f5;border:1.60px solid #e3e3e3;border-radius:5.20px;"></div>
<div style="left:1742.48px;top:1613.60px;width:152.68px;height:30.80px;background:#d9504e;border-radius:5.20px;"></div>
<div style="font-size:19.20px;line-height:19.20px;color:rgba(20,20,20,0.66);font-weight:normal;white-space:nowrap;letter-spacing:-0.14px;left:1421.56px;width:800.00px;text-align:center;top:1618.16px;">0 / 4</div>
<div style="left:1901.56px;top:1613.60px;width:152.68px;height:30.80px;background:#f5f5f5;border:1.60px solid #e3e3e3;border-radius:5.20px;"></div>
<div style="left:1901.56px;top:1613.60px;width:50.89px;height:30.80px;background:#d9504e;border-radius:5.20px;"></div>
<div style="font-size:19.20px;line-height:19.20px;color:rgba(20,20,20,0.66);font-weight:normal;white-space:nowrap;letter-spacing:-0.14px;left:1580.64px;width:800.00px;text-align:center;top:1618.16px;">1 / 3</div>
<div style="left:2060.64px;top:1613.60px;width:152.68px;height:30.80px;background:#f5f5f5;border:1.60px solid #e3e3e3;border-radius:5.20px;"></div>
<div style="left:2060.64px;top:1613.60px;width:152.68px;height:30.80px;background:#d9504e;border-radius:5.20px;"></div>
<div style="font-size:19.20px;line-height:19.20px;color:rgba(20,20,20,0.66);font-weight:normal;white-space:nowrap;letter-spacing:-0.14px;left:1739.72px;width:800.00px;text-align:center;top:1618.16px;">0 / 3</div>
<div style="left:2219.72px;top:1613.60px;width:152.68px;height:30.80px;background:#f5f5f5;border:1.60px solid #e3e3e3;border-radius:5.20px;"></div>
<div style="left:2219.72px;top:1613.60px;width:50.89px;height:30.80px;background:#d9504e;border-radius:5.20px;"></div>
<div style="font-size:19.20px;line-height:19.20px;color:rgba(20,20,20,0.66);font-weight:normal;white-space:nowrap;letter-spacing:-0.14px;left:1898.80px;width:800.00px;text-align:center;top:1618.16px;">1 / 3</div>
<div style="left:310.80px;top:1682.00px;width:2066.40px;height:2.00px;background:#ececec;"></div>
<div style="font-size:19.20px;line-height:19.20px;color:#4a4a4a;font-weight:normal;white-space:nowrap;letter-spacing:-1.01px;left:319.60px;top:1653.76px;">Ward, Eli - 424488</div>
<div style="font-size:19.20px;line-height:19.20px;color:#4a4a4a;font-weight:normal;white-space:nowrap;letter-spacing:-0.53px;left:320.92px;width:800.00px;text-align:center;top:1653.76px;">1</div>
<div style="left:788.00px;top:1649.60px;width:152.68px;height:30.80px;background:#f5f5f5;border:1.60px solid #e3e3e3;border-radius:5.20px;"></div>
<div style="left:788.00px;top:1649.60px;width:152.68px;height:30.80px;background:#d9504e;border-radius:5.20px;"></div>
<div style="font-size:19.20px;line-height:19.20px;color:rgba(20,20,20,0.66);font-weight:normal;white-space:nowrap;letter-spacing:-0.14px;left:467.08px;width:800.00px;text-align:center;top:1654.16px;">0 / 1</div>
<div style="left:947.08px;top:1649.60px;width:152.68px;height:30.80px;background:#f5f5f5;border:1.60px solid #e3e3e3;border-radius:5.20px;"></div>
<div style="left:947.08px;top:1649.60px;width:152.68px;height:30.80px;background:#4fb054;border-radius:5.20px;"></div>
<div style="font-size:19.20px;line-height:19.20px;color:rgba(20,20,20,0.66);font-weight:normal;white-space:nowrap;letter-spacing:-0.14px;left:626.16px;width:800.00px;text-align:center;top:1654.16px;">2 / 2</div>
<div style="left:1106.16px;top:1649.60px;width:152.68px;height:30.80px;background:#f5f5f5;border:1.60px solid #e3e3e3;border-radius:5.20px;"></div>
<div style="left:1106.16px;top:1649.60px;width:152.68px;height:30.80px;background:#4fb054;border-radius:5.20px;"></div>
<div style="font-size:19.20px;line-height:19.20px;color:rgba(20,20,20,0.66);font-weight:normal;white-space:nowrap;letter-spacing:-0.14px;left:785.24px;width:800.00px;text-align:center;top:1654.16px;">1 / 1</div>
<div style="left:1265.24px;top:1649.60px;width:152.68px;height:30.80px;background:#f5f5f5;border:1.60px solid #e3e3e3;border-radius:5.20px;"></div>
<div style="left:1265.24px;top:1649.60px;width:152.68px;height:30.80px;background:#4fb054;border-radius:5.20px;"></div>
<div style="font-size:19.20px;line-height:19.20px;color:rgba(20,20,20,0.66);font-weight:normal;white-space:nowrap;letter-spacing:-0.14px;left:944.32px;width:800.00px;text-align:center;top:1654.16px;">1 / 1</div>
<div style="left:1424.32px;top:1649.60px;width:152.68px;height:30.80px;background:#f5f5f5;border:1.60px solid #e3e3e3;border-radius:5.20px;"></div>
<div style="left:1424.32px;top:1649.60px;width:152.68px;height:30.80px;background:#4fb054;border-radius:5.20px;"></div>
<div style="font-size:19.20px;line-height:19.20px;color:rgba(20,20,20,0.66);font-weight:normal;white-space:nowrap;letter-spacing:-0.14px;left:1103.40px;width:800.00px;text-align:center;top:1654.16px;">4 / 4</div>
<div style="left:1583.40px;top:1649.60px;width:152.68px;height:30.80px;background:#f5f5f5;border:1.60px solid #e3e3e3;border-radius:5.20px;"></div>
<div style="left:1583.40px;top:1649.60px;width:152.68px;height:30.80px;background:#4fb054;border-radius:5.20px;"></div>
<div style="font-size:19.20px;line-height:19.20px;color:rgba(20,20,20,0.66);font-weight:normal;white-space:nowrap;letter-spacing:-0.14px;left:1262.48px;width:800.00px;text-align:center;top:1654.16px;">3 / 3</div>
<div style="left:1742.48px;top:1649.60px;width:152.68px;height:30.80px;background:#f5f5f5;border:1.60px solid #e3e3e3;border-radius:5.20px;"></div>
<div style="left:1742.48px;top:1649.60px;width:114.51px;height:30.80px;background:#4fb054;border-radius:5.20px;"></div>
<div style="font-size:19.20px;line-height:19.20px;color:rgba(20,20,20,0.66);font-weight:normal;white-space:nowrap;letter-spacing:-0.14px;left:1421.56px;width:800.00px;text-align:center;top:1654.16px;">3 / 4</div>
<div style="left:1901.56px;top:1649.60px;width:152.68px;height:30.80px;background:#f5f5f5;border:1.60px solid #e3e3e3;border-radius:5.20px;"></div>
<div style="left:1901.56px;top:1649.60px;width:152.68px;height:30.80px;background:#4fb054;border-radius:5.20px;"></div>
<div style="font-size:19.20px;line-height:19.20px;color:rgba(20,20,20,0.66);font-weight:normal;white-space:nowrap;letter-spacing:-0.14px;left:1580.64px;width:800.00px;text-align:center;top:1654.16px;">3 / 3</div>
<div style="left:2060.64px;top:1649.60px;width:152.68px;height:30.80px;background:#f5f5f5;border:1.60px solid #e3e3e3;border-radius:5.20px;"></div>
<div style="left:2060.64px;top:1649.60px;width:152.68px;height:30.80px;background:#4fb054;border-radius:5.20px;"></div>
<div style="font-size:19.20px;line-height:19.20px;color:rgba(20,20,20,0.66);font-weight:normal;white-space:nowrap;letter-spacing:-0.14px;left:1739.72px;width:800.00px;text-align:center;top:1654.16px;">3 / 3</div>
<div style="left:2219.72px;top:1649.60px;width:152.68px;height:30.80px;background:#f5f5f5;border:1.60px solid #e3e3e3;border-radius:5.20px;"></div>
<div style="left:2219.72px;top:1649.60px;width:101.79px;height:30.80px;background:#4fb054;border-radius:5.20px;"></div>
<div style="font-size:19.20px;line-height:19.20px;color:rgba(20,20,20,0.66);font-weight:normal;white-space:nowrap;letter-spacing:-0.14px;left:1898.80px;width:800.00px;text-align:center;top:1654.16px;">2 / 3</div>
<div style="font-size:18.40px;line-height:18.40px;color:#4a4a4a;font-weight:normal;white-space:nowrap;right:2024.00px;top:1691.64px;">Total</div>
<div style="left:788.00px;top:1686.40px;width:152.68px;height:31.20px;background:#f5f5f5;border:1.60px solid #e3e3e3;border-radius:5.20px;"></div>
<div style="left:788.00px;top:1686.40px;width:55.52px;height:31.20px;background:#d9504e;border-radius:5.20px;"></div>
<div style="font-size:19.20px;line-height:19.20px;color:rgba(20,20,20,0.66);font-weight:normal;white-space:nowrap;letter-spacing:-0.75px;left:466.76px;width:800.00px;text-align:center;top:1691.36px;">4 / 11</div>
<div style="left:947.08px;top:1686.40px;width:152.68px;height:31.20px;background:#f5f5f5;border:1.60px solid #e3e3e3;border-radius:5.20px;"></div>
<div style="left:947.08px;top:1686.40px;width:83.28px;height:31.20px;background:#f0ab42;border-radius:5.20px;"></div>
<div style="font-size:19.20px;line-height:19.20px;color:rgba(20,20,20,0.66);font-weight:normal;white-space:nowrap;letter-spacing:-0.78px;left:625.84px;width:800.00px;text-align:center;top:1691.36px;">12 / 22</div>
<div style="left:1106.16px;top:1686.40px;width:152.68px;height:31.20px;background:#f5f5f5;border:1.60px solid #e3e3e3;border-radius:5.20px;"></div>
<div style="left:1106.16px;top:1686.40px;width:83.28px;height:31.20px;background:#f0ab42;border-radius:5.20px;"></div>
<div style="font-size:19.20px;line-height:19.20px;color:rgba(20,20,20,0.66);font-weight:normal;white-space:nowrap;letter-spacing:-0.75px;left:784.92px;width:800.00px;text-align:center;top:1691.36px;">6 / 11</div>
<div style="left:1265.24px;top:1686.40px;width:152.68px;height:31.20px;background:#f5f5f5;border:1.60px solid #e3e3e3;border-radius:5.20px;"></div>
<div style="left:1265.24px;top:1686.40px;width:83.28px;height:31.20px;background:#f0ab42;border-radius:5.20px;"></div>
<div style="font-size:19.20px;line-height:19.20px;color:rgba(20,20,20,0.66);font-weight:normal;white-space:nowrap;letter-spacing:-0.75px;left:944.00px;width:800.00px;text-align:center;top:1691.36px;">6 / 11</div>
<div style="left:1424.32px;top:1686.40px;width:152.68px;height:31.20px;background:#f5f5f5;border:1.60px solid #e3e3e3;border-radius:5.20px;"></div>
<div style="left:1424.32px;top:1686.40px;width:100.63px;height:31.20px;background:#f0ab42;border-radius:5.20px;"></div>
<div style="font-size:19.20px;line-height:19.20px;color:rgba(20,20,20,0.66);font-weight:normal;white-space:nowrap;letter-spacing:-0.78px;left:1103.08px;width:800.00px;text-align:center;top:1691.36px;">29 / 44</div>
<div style="left:1583.40px;top:1686.40px;width:152.68px;height:31.20px;background:#f5f5f5;border:1.60px solid #e3e3e3;border-radius:5.20px;"></div>
<div style="left:1583.40px;top:1686.40px;width:111.04px;height:31.20px;background:#4fb054;border-radius:5.20px;"></div>
<div style="font-size:19.20px;line-height:19.20px;color:rgba(20,20,20,0.66);font-weight:normal;white-space:nowrap;letter-spacing:-0.78px;left:1262.16px;width:800.00px;text-align:center;top:1691.36px;">24 / 33</div>
<div style="left:1742.48px;top:1686.40px;width:152.68px;height:31.20px;background:#f5f5f5;border:1.60px solid #e3e3e3;border-radius:5.20px;"></div>
<div style="left:1742.48px;top:1686.40px;width:76.34px;height:31.20px;background:#f0ab42;border-radius:5.20px;"></div>
<div style="font-size:19.20px;line-height:19.20px;color:rgba(20,20,20,0.66);font-weight:normal;white-space:nowrap;letter-spacing:-0.78px;left:1421.24px;width:800.00px;text-align:center;top:1691.36px;">22 / 44</div>
<div style="left:1901.56px;top:1686.40px;width:152.68px;height:31.20px;background:#f5f5f5;border:1.60px solid #e3e3e3;border-radius:5.20px;"></div>
<div style="left:1901.56px;top:1686.40px;width:101.79px;height:31.20px;background:#f0ab42;border-radius:5.20px;"></div>
<div style="font-size:19.20px;line-height:19.20px;color:rgba(20,20,20,0.66);font-weight:normal;white-space:nowrap;letter-spacing:-0.78px;left:1580.32px;width:800.00px;text-align:center;top:1691.36px;">22 / 33</div>
<div style="left:2060.64px;top:1686.40px;width:152.68px;height:31.20px;background:#f5f5f5;border:1.60px solid #e3e3e3;border-radius:5.20px;"></div>
<div style="left:2060.64px;top:1686.40px;width:83.28px;height:31.20px;background:#f0ab42;border-radius:5.20px;"></div>
<div style="font-size:19.20px;line-height:19.20px;color:rgba(20,20,20,0.66);font-weight:normal;white-space:nowrap;letter-spacing:-0.78px;left:1739.40px;width:800.00px;text-align:center;top:1691.36px;">18 / 33</div>
<div style="left:2219.72px;top:1686.40px;width:152.68px;height:31.20px;background:#f5f5f5;border:1.60px solid #e3e3e3;border-radius:5.20px;"></div>
<div style="left:2219.72px;top:1686.40px;width:101.79px;height:31.20px;background:#f0ab42;border-radius:5.20px;"></div>
<div style="font-size:19.20px;line-height:19.20px;color:rgba(20,20,20,0.66);font-weight:normal;white-space:nowrap;letter-spacing:-0.78px;left:1898.48px;width:800.00px;text-align:center;top:1691.36px;">22 / 33</div>
<div style="left:658.40px;top:1286.60px;width:2.00px;height:432.60px;background:#ececec;"></div>
<div style="left:306.00px;top:1789.20px;width:2203.20px;height:59.60px;background:#f3f9fb;border-top:2.40px solid #d6dcdf;border-bottom:2.40px solid #d6dcdf;"></div>
<svg style="position:absolute;left:324.00px;top:1803.60px;width:46.80px;height:42.80px" viewBox="0 0 100 100" preserveAspectRatio="none">
<path d="M0 0 L27 0 L56 100 L40 100 L21 27 L21 100 L0 100 Z" fill="#4b2a96"/>
<path d="M70 0 L100 0 L100 100 L79 100 L79 27 L58 100 L41 100 Z" fill="#b4279c"/>
</svg>
<div style="font-size:25.20px;line-height:25.20px;color:#4f2d9a;font-weight:bold;white-space:nowrap;letter-spacing:1.08px;left:380.00px;top:1801.48px;">Mentoring</div>
<div style="font-size:25.20px;line-height:25.20px;color:#b0279c;font-weight:bold;white-space:nowrap;letter-spacing:0.40px;left:380.00px;top:1824.68px;">Minds</div>
<div style="font-size:8.80px;line-height:8.80px;color:#b0279c;font-weight:normal;white-space:nowrap;left:455.60px;top:1828.56px;">™</div>
<div style="font-size:14.00px;line-height:14.00px;color:#555;font-weight:normal;white-space:nowrap;letter-spacing:0.56px;left:1110.80px;top:1808.96px;">As of: Jan 7, 2020 6:26 PM</div>
<div style="font-size:14.00px;line-height:14.00px;color:#555;font-weight:normal;white-space:nowrap;left:1788.80px;top:1808.96px;">1</div>
</div></div></body></html>
